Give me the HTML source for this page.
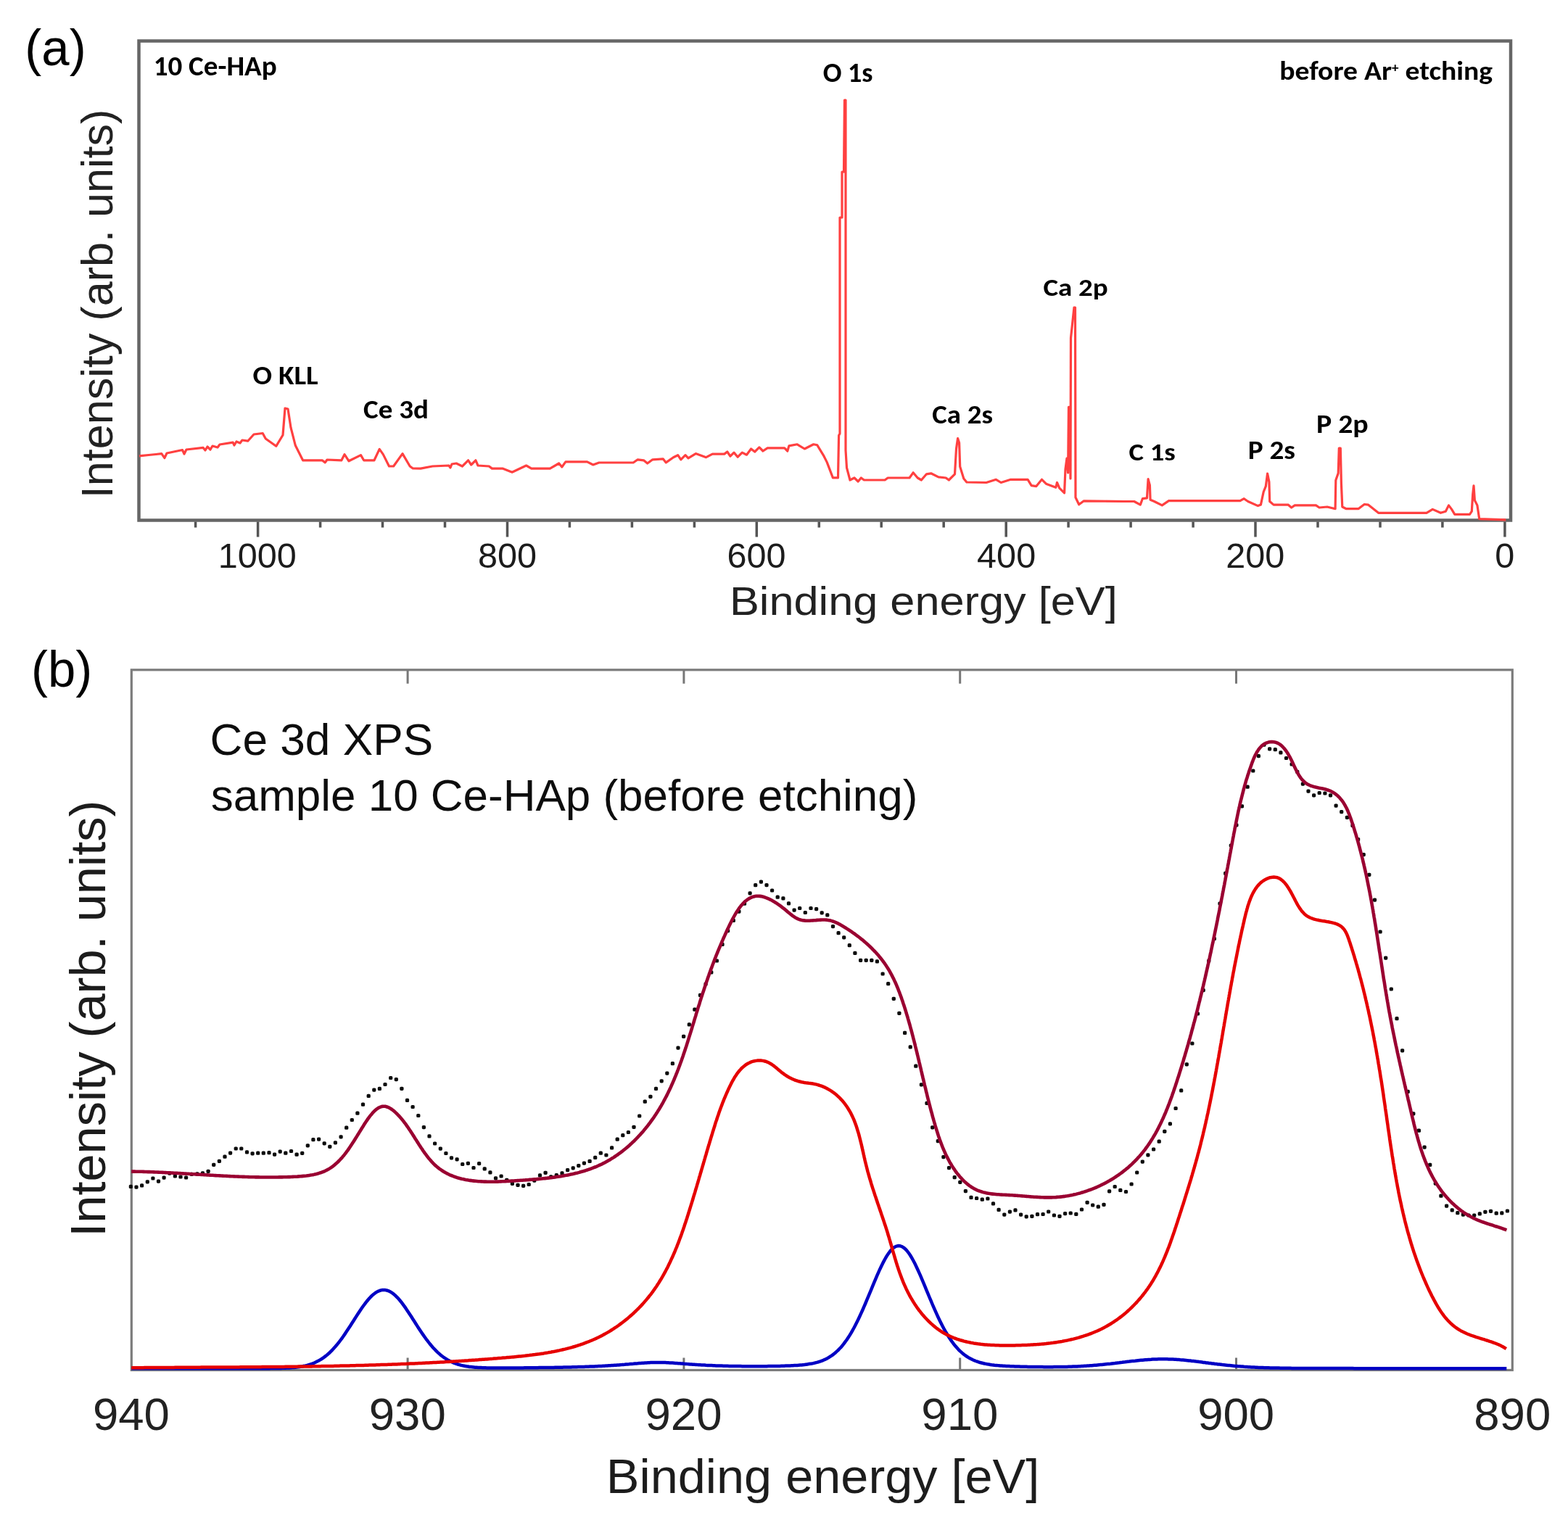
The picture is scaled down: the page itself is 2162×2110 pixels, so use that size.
<!DOCTYPE html>
<html><head><meta charset="utf-8"><title>XPS</title><style>html,body{margin:0;padding:0;background:#fff}svg{display:block}</style></head><body><svg width="2162" height="2110" viewBox="0 0 2162 2110">
<defs><filter id="bl1" x="-1%" y="-1%" width="102%" height="102%"><feGaussianBlur stdDeviation="0.7"/></filter><filter id="blg" x="0" y="0" width="100%" height="100%" filterUnits="userSpaceOnUse"><feGaussianBlur stdDeviation="0.75"/></filter></defs>
<g filter="url(#blg)">
<rect width="2162" height="2110" fill="#fff"/>
<rect x="191.5" y="56.5" width="1891.5" height="661.0" fill="none" stroke="#666" stroke-width="4.5"/>
<path d="M269.6,719.5v8 M355.6,719.5v21 M441.6,719.5v8 M527.5,719.5v8 M613.5,719.5v8 M699.5,719.5v21 M785.4,719.5v8 M871.4,719.5v8 M957.4,719.5v8 M1043.3,719.5v21 M1129.3,719.5v8 M1215.2,719.5v8 M1301.2,719.5v8 M1387.2,719.5v21 M1473.1,719.5v8 M1559.1,719.5v8 M1645.1,719.5v8 M1731.0,719.5v21 M1817.0,719.5v8 M1903.0,719.5v8 M1988.9,719.5v8 M2074.9,719.5v21" stroke="#555" stroke-width="3.5" fill="none"/>
<path d="M192.0,629.0 L194.0,628.7 L205.0,627.5 L215.0,626.5 L222.8,625.6 L226.9,631.7 L230.0,625.0 L251.5,620.5 L254.0,626.0 L257.0,620.0 L280.2,617.4 L283.0,621.0 L286.0,616.0 L290.0,620.0 L293.0,615.0 L300.0,617.0 L303.0,613.0 L321.2,610.2 L323.0,614.0 L326.0,609.0 L331.0,611.0 L334.0,607.0 L341.7,608.2 L350.0,599.0 L362.2,597.5 L366.3,605.0 L380.7,615.3 L390.0,600.0 L393.0,563.0 L397.0,564.0 L401.0,589.7 L407.3,614.3 L417.6,634.8 L444.2,634.8 L448.3,637.9 L451.0,634.0 L470.9,634.8 L475.0,626.6 L481.0,635.8 L497.5,627.6 L501.6,634.8 L516.0,634.8 L523.2,619.4 L528.3,626.6 L536.5,643.0 L542.6,643.0 L555.0,625.6 L565.2,643.0 L569.3,646.0 L580.0,646.1 L596.4,643.0 L619.0,642.0 L621.0,645.0 L623.0,640.0 L629.2,639.0 L637.4,643.0 L645.6,634.8 L649.7,641.0 L655.9,634.8 L659.0,642.0 L674.3,643.0 L678.4,646.1 L692.8,646.1 L706.1,651.2 L725.6,642.0 L732.7,646.1 L758.4,646.1 L770.7,639.0 L774.8,644.0 L779.9,636.9 L809.6,636.9 L817.8,641.0 L826.0,638.0 L830.1,638.0 L873.2,638.0 L879.3,633.8 L887.5,634.8 L892.7,639.0 L899.8,633.8 L914.2,632.8 L918.3,637.9 L928.5,630.7 L934.7,627.7 L938.8,633.8 L945.0,627.7 L949.0,631.8 L959.3,625.6 L973.6,630.7 L982.3,626.1 L998.7,626.1 L1002.8,623.0 L1006.9,629.2 L1012.0,624.1 L1017.2,630.2 L1023.3,624.1 L1029.5,627.2 L1035.6,619.0 L1040.7,623.0 L1046.9,616.9 L1052.0,622.0 L1058.2,617.9 L1081.7,617.9 L1085.8,622.0 L1087.9,614.9 L1099.2,612.8 L1109.4,619.0 L1121.7,612.8 L1126.8,613.8 L1136.1,629.2 L1140.2,637.4 L1148.4,658.9 L1155.5,658.9 L1156.6,600.5 L1158.0,598.0 L1158.0,300.0 L1161.0,300.0 L1161.0,237.0 L1163.5,237.0 L1164.5,138.0 L1166.0,138.0 L1166.0,621.0 L1167.5,645.0 L1172.0,662.0 L1178.0,659.0 L1183.2,664.0 L1187.3,659.0 L1191.4,662.0 L1220.1,662.0 L1224.2,659.0 L1254.0,659.0 L1259.1,651.8 L1265.2,659.0 L1270.4,662.0 L1277.5,653.8 L1283.7,652.8 L1293.9,657.9 L1304.2,659.0 L1308.3,662.0 L1316.5,653.8 L1318.5,619.0 L1320.6,604.6 L1322.6,610.8 L1323.7,643.6 L1328.8,660.0 L1332.9,665.0 L1360.0,665.5 L1373.4,661.3 L1380.2,665.5 L1393.6,661.3 L1417.1,661.3 L1422.2,669.7 L1428.9,670.6 L1436.5,661.3 L1442.4,667.2 L1455.8,672.3 L1457.5,665.5 L1460.8,673.1 L1467.6,679.8 L1469.0,647.0 L1471.0,632.0 L1472.6,652.0 L1473.5,561.3 L1475.0,561.3 L1476.0,660.0 L1476.5,466.0 L1479.5,438.0 L1481.0,424.0 L1482.5,424.0 L1483.0,686.0 L1487.7,695.8 L1494.5,690.8 L1550.0,691.5 L1563.8,691.5 L1572.3,696.1 L1575.4,687.7 L1581.5,686.9 L1583.1,660.7 L1585.4,669.2 L1586.1,689.2 L1591.5,691.5 L1602.3,696.9 L1611.5,690.7 L1709.9,690.7 L1715.3,687.7 L1720.7,691.5 L1734.5,697.6 L1738.4,696.1 L1742.2,678.4 L1745.3,670.7 L1747.6,653.0 L1749.9,664.6 L1750.7,691.5 L1756.1,696.1 L1776.0,696.1 L1780.7,700.0 L1785.3,696.9 L1814.5,696.9 L1819.1,700.0 L1830.0,699.0 L1841.1,701.7 L1841.8,662.3 L1845.2,652.6 L1846.3,618.0 L1848.3,618.0 L1849.4,666.4 L1850.8,699.0 L1856.3,701.7 L1872.9,701.7 L1881.2,695.5 L1886.7,696.2 L1900.6,707.3 L1967.0,707.3 L1975.3,702.4 L1986.4,707.3 L1993.3,705.2 L1997.5,696.9 L2001.6,702.4 L2005.8,709.3 L2026.5,709.3 L2029.3,705.2 L2030.7,681.6 L2032.0,669.9 L2033.4,690.0 L2036.9,696.9 L2039.7,715.6 L2076.3,716.9" fill="none" stroke="#ff4040" stroke-width="3.2" stroke-linejoin="round" filter="url(#bl1)"/>
<rect x="181.3" y="923.8" width="1904.0000000000002" height="965.7" fill="none" stroke="#7c7c7c" stroke-width="3.2"/>
<path d="M562.1,923.8v19 M562.1,1889.5v-17 M942.9,923.8v19 M942.9,1889.5v-17 M1323.7,923.8v19 M1323.7,1889.5v-17 M1704.5,923.8v19 M1704.5,1889.5v-17" stroke="#777" stroke-width="3" fill="none"/>
<path d="M181.3,1887.3 L183.3,1887.3 L185.3,1887.3 L187.3,1887.3 L189.3,1887.3 L191.3,1887.3 L193.3,1887.3 L195.3,1887.3 L197.3,1887.3 L199.3,1887.3 L201.3,1887.3 L203.3,1887.3 L205.3,1887.3 L207.3,1887.3 L209.3,1887.3 L211.3,1887.3 L213.3,1887.3 L215.3,1887.3 L217.3,1887.3 L219.3,1887.3 L221.3,1887.3 L223.3,1887.3 L225.3,1887.3 L227.3,1887.3 L229.3,1887.3 L231.3,1887.3 L233.3,1887.3 L235.3,1887.3 L237.3,1887.3 L239.3,1887.3 L241.3,1887.3 L243.3,1887.3 L245.3,1887.3 L247.3,1887.3 L249.3,1887.3 L251.3,1887.3 L253.3,1887.3 L255.3,1887.3 L257.3,1887.3 L259.3,1887.3 L261.3,1887.3 L263.3,1887.3 L265.3,1887.3 L267.3,1887.3 L269.3,1887.3 L271.3,1887.3 L273.3,1887.3 L275.3,1887.3 L277.3,1887.3 L279.3,1887.3 L281.3,1887.3 L283.3,1887.3 L285.3,1887.3 L287.3,1887.3 L289.3,1887.3 L291.3,1887.3 L293.3,1887.3 L295.3,1887.3 L297.3,1887.3 L299.3,1887.3 L301.3,1887.3 L303.3,1887.3 L305.3,1887.3 L307.3,1887.3 L309.3,1887.3 L311.3,1887.3 L313.3,1887.3 L315.3,1887.3 L317.3,1887.3 L319.3,1887.3 L321.3,1887.3 L323.3,1887.3 L325.3,1887.3 L327.3,1887.3 L329.3,1887.3 L331.3,1887.3 L333.3,1887.3 L335.3,1887.3 L337.3,1887.3 L339.3,1887.3 L341.3,1887.3 L343.3,1887.3 L345.3,1887.3 L347.3,1887.3 L349.3,1887.3 L351.3,1887.2 L353.3,1887.2 L355.3,1887.2 L357.3,1887.2 L359.3,1887.2 L361.3,1887.2 L363.3,1887.2 L365.3,1887.2 L367.3,1887.2 L369.3,1887.2 L371.3,1887.2 L373.3,1887.1 L375.3,1887.1 L377.3,1887.1 L379.3,1887.1 L381.3,1887.0 L383.3,1887.0 L385.3,1887.0 L387.3,1886.9 L389.3,1886.8 L391.3,1886.8 L393.3,1886.7 L395.3,1886.6 L397.3,1886.5 L399.3,1886.4 L401.3,1886.2 L403.3,1886.1 L405.3,1885.9 L407.3,1885.7 L409.3,1885.5 L411.3,1885.2 L413.3,1884.9 L415.3,1884.6 L417.3,1884.2 L419.3,1883.8 L421.3,1883.4 L423.3,1882.9 L425.3,1882.3 L427.3,1881.7 L429.3,1881.0 L431.3,1880.3 L433.3,1879.5 L435.3,1878.6 L437.3,1877.6 L439.3,1876.6 L441.3,1875.4 L443.3,1874.2 L445.3,1872.8 L447.3,1871.4 L449.3,1869.9 L451.3,1868.2 L453.3,1866.5 L455.3,1864.6 L457.3,1862.6 L459.3,1860.5 L461.3,1858.3 L463.3,1856.0 L465.3,1853.6 L467.3,1851.1 L469.3,1848.5 L471.3,1845.8 L473.3,1843.0 L475.3,1840.1 L477.3,1837.1 L479.3,1834.1 L481.3,1831.1 L483.3,1828.0 L485.3,1824.8 L487.3,1821.7 L489.3,1818.5 L491.3,1815.4 L493.3,1812.3 L495.3,1809.2 L497.3,1806.2 L499.3,1803.3 L501.3,1800.5 L503.3,1797.8 L505.3,1795.2 L507.3,1792.8 L509.3,1790.5 L511.3,1788.4 L513.3,1786.4 L515.3,1784.7 L517.3,1783.2 L519.3,1781.9 L521.3,1780.8 L523.3,1780.0 L525.3,1779.4 L527.3,1779.0 L529.3,1778.9 L531.3,1779.1 L533.3,1779.5 L535.3,1780.1 L537.3,1781.0 L539.3,1782.1 L541.3,1783.5 L543.3,1785.1 L545.3,1786.8 L547.3,1788.8 L549.3,1790.9 L551.3,1793.3 L553.3,1795.7 L555.3,1798.4 L557.3,1801.1 L559.3,1803.9 L561.3,1806.9 L563.3,1809.9 L565.3,1812.9 L567.3,1816.0 L569.3,1819.2 L571.3,1822.3 L573.3,1825.5 L575.3,1828.6 L577.3,1831.7 L579.3,1834.7 L581.3,1837.7 L583.3,1840.6 L585.3,1843.5 L587.3,1846.3 L589.3,1848.9 L591.3,1851.5 L593.3,1854.0 L595.3,1856.4 L597.3,1858.7 L599.3,1860.8 L601.3,1862.9 L603.3,1864.8 L605.3,1866.6 L607.3,1868.4 L609.3,1870.0 L611.3,1871.5 L613.3,1872.9 L615.3,1874.2 L617.3,1875.4 L619.3,1876.5 L621.3,1877.6 L623.3,1878.5 L625.3,1879.4 L627.3,1880.2 L629.3,1880.9 L631.3,1881.5 L633.3,1882.1 L635.3,1882.7 L637.3,1883.1 L639.3,1883.6 L641.3,1883.9 L643.3,1884.3 L645.3,1884.6 L647.3,1884.9 L649.3,1885.1 L651.3,1885.3 L653.3,1885.5 L655.3,1885.7 L657.3,1885.8 L659.3,1885.9 L661.3,1886.0 L663.3,1886.1 L665.3,1886.2 L667.3,1886.3 L669.3,1886.3 L671.3,1886.4 L673.3,1886.4 L675.3,1886.5 L677.3,1886.5 L679.3,1886.5 L681.3,1886.5 L683.3,1886.5 L685.3,1886.5 L687.3,1886.5 L689.3,1886.5 L691.3,1886.5 L693.3,1886.5 L695.3,1886.5 L697.3,1886.5 L699.3,1886.5 L701.3,1886.5 L703.3,1886.5 L705.3,1886.5 L707.3,1886.5 L709.3,1886.5 L711.3,1886.4 L713.3,1886.4 L715.3,1886.4 L717.3,1886.4 L719.3,1886.4 L721.3,1886.4 L723.3,1886.3 L725.3,1886.3 L727.3,1886.3 L729.3,1886.3 L731.3,1886.3 L733.3,1886.3 L735.3,1886.2 L737.3,1886.2 L739.3,1886.2 L741.3,1886.2 L743.3,1886.1 L745.3,1886.1 L747.3,1886.1 L749.3,1886.1 L751.3,1886.0 L753.3,1886.0 L755.3,1886.0 L757.3,1886.0 L759.3,1885.9 L761.3,1885.9 L763.3,1885.9 L765.3,1885.8 L767.3,1885.8 L769.3,1885.8 L771.3,1885.7 L773.3,1885.7 L775.3,1885.7 L777.3,1885.6 L779.3,1885.6 L781.3,1885.5 L783.3,1885.5 L785.3,1885.4 L787.3,1885.4 L789.3,1885.3 L791.3,1885.3 L793.3,1885.2 L795.3,1885.2 L797.3,1885.1 L799.3,1885.1 L801.3,1885.0 L803.3,1885.0 L805.3,1884.9 L807.3,1884.8 L809.3,1884.7 L811.3,1884.7 L813.3,1884.6 L815.3,1884.5 L817.3,1884.4 L819.3,1884.4 L821.3,1884.3 L823.3,1884.2 L825.3,1884.1 L827.3,1884.0 L829.3,1883.9 L831.3,1883.8 L833.3,1883.7 L835.3,1883.6 L837.3,1883.5 L839.3,1883.3 L841.3,1883.2 L843.3,1883.1 L845.3,1883.0 L847.3,1882.8 L849.3,1882.7 L851.3,1882.5 L853.3,1882.4 L855.3,1882.2 L857.3,1882.1 L859.3,1881.9 L861.3,1881.8 L863.3,1881.6 L865.3,1881.4 L867.3,1881.3 L869.3,1881.1 L871.3,1880.9 L873.3,1880.8 L875.3,1880.6 L877.3,1880.4 L879.3,1880.3 L881.3,1880.1 L883.3,1880.0 L885.3,1879.8 L887.3,1879.7 L889.3,1879.5 L891.3,1879.4 L893.3,1879.3 L895.3,1879.2 L897.3,1879.1 L899.3,1879.0 L901.3,1879.0 L903.3,1879.0 L905.3,1878.9 L907.3,1878.9 L909.3,1878.9 L911.3,1878.9 L913.3,1879.0 L915.3,1879.0 L917.3,1879.1 L919.3,1879.2 L921.3,1879.3 L923.3,1879.4 L925.3,1879.5 L927.3,1879.6 L929.3,1879.7 L931.3,1879.9 L933.3,1880.0 L935.3,1880.2 L937.3,1880.3 L939.3,1880.5 L941.3,1880.6 L943.3,1880.8 L945.3,1880.9 L947.3,1881.1 L949.3,1881.2 L951.3,1881.4 L953.3,1881.5 L955.3,1881.7 L957.3,1881.8 L959.3,1881.9 L961.3,1882.1 L963.3,1882.2 L965.3,1882.3 L967.3,1882.4 L969.3,1882.5 L971.3,1882.6 L973.3,1882.8 L975.3,1882.9 L977.3,1882.9 L979.3,1883.0 L981.3,1883.1 L983.3,1883.2 L985.3,1883.3 L987.3,1883.4 L989.3,1883.4 L991.3,1883.5 L993.3,1883.6 L995.3,1883.6 L997.3,1883.7 L999.3,1883.7 L1001.3,1883.8 L1003.3,1883.8 L1005.3,1883.9 L1007.3,1883.9 L1009.3,1884.0 L1011.3,1884.0 L1013.3,1884.0 L1015.3,1884.1 L1017.3,1884.1 L1019.3,1884.1 L1021.3,1884.1 L1023.3,1884.2 L1025.3,1884.2 L1027.3,1884.2 L1029.3,1884.2 L1031.3,1884.2 L1033.3,1884.2 L1035.3,1884.2 L1037.3,1884.2 L1039.3,1884.2 L1041.3,1884.2 L1043.3,1884.2 L1045.3,1884.2 L1047.3,1884.2 L1049.3,1884.2 L1051.3,1884.2 L1053.3,1884.2 L1055.3,1884.2 L1057.3,1884.2 L1059.3,1884.1 L1061.3,1884.1 L1063.3,1884.1 L1065.3,1884.1 L1067.3,1884.0 L1069.3,1884.0 L1071.3,1883.9 L1073.3,1883.9 L1075.3,1883.9 L1077.3,1883.8 L1079.3,1883.8 L1081.3,1883.7 L1083.3,1883.6 L1085.3,1883.6 L1087.3,1883.5 L1089.3,1883.4 L1091.3,1883.3 L1093.3,1883.2 L1095.3,1883.1 L1097.3,1883.0 L1099.3,1882.9 L1101.3,1882.7 L1103.3,1882.5 L1105.3,1882.4 L1107.3,1882.2 L1109.3,1882.0 L1111.3,1881.7 L1113.3,1881.4 L1115.3,1881.1 L1117.3,1880.8 L1119.3,1880.5 L1121.3,1880.1 L1123.3,1879.6 L1125.3,1879.1 L1127.3,1878.6 L1129.3,1878.0 L1131.3,1877.3 L1133.3,1876.6 L1135.3,1875.8 L1137.3,1874.9 L1139.3,1873.9 L1141.3,1872.9 L1143.3,1871.7 L1145.3,1870.4 L1147.3,1869.1 L1149.3,1867.6 L1151.3,1866.0 L1153.3,1864.2 L1155.3,1862.4 L1157.3,1860.3 L1159.3,1858.2 L1161.3,1855.9 L1163.3,1853.4 L1165.3,1850.7 L1167.3,1848.0 L1169.3,1845.0 L1171.3,1841.9 L1173.3,1838.6 L1175.3,1835.1 L1177.3,1831.5 L1179.3,1827.7 L1181.3,1823.8 L1183.3,1819.7 L1185.3,1815.5 L1187.3,1811.1 L1189.3,1806.7 L1191.3,1802.1 L1193.3,1797.5 L1195.3,1792.7 L1197.3,1787.9 L1199.3,1783.1 L1201.3,1778.3 L1203.3,1773.4 L1205.3,1768.6 L1207.3,1763.9 L1209.3,1759.2 L1211.3,1754.7 L1213.3,1750.2 L1215.3,1746.0 L1217.3,1741.9 L1219.3,1738.1 L1221.3,1734.5 L1223.3,1731.2 L1225.3,1728.3 L1227.3,1725.6 L1229.3,1723.3 L1231.3,1721.4 L1233.3,1720.0 L1235.3,1718.9 L1237.3,1718.3 L1239.3,1718.1 L1241.3,1718.3 L1243.3,1719.0 L1245.3,1720.1 L1247.3,1721.6 L1249.3,1723.5 L1251.3,1725.9 L1253.3,1728.5 L1255.3,1731.5 L1257.3,1734.9 L1259.3,1738.5 L1261.3,1742.3 L1263.3,1746.4 L1265.3,1750.7 L1267.3,1755.1 L1269.3,1759.7 L1271.3,1764.4 L1273.3,1769.1 L1275.3,1773.9 L1277.3,1778.8 L1279.3,1783.6 L1281.3,1788.5 L1283.3,1793.2 L1285.3,1798.0 L1287.3,1802.6 L1289.3,1807.2 L1291.3,1811.7 L1293.3,1816.0 L1295.3,1820.2 L1297.3,1824.3 L1299.3,1828.2 L1301.3,1832.0 L1303.3,1835.6 L1305.3,1839.0 L1307.3,1842.3 L1309.3,1845.5 L1311.3,1848.4 L1313.3,1851.2 L1315.3,1853.8 L1317.3,1856.3 L1319.3,1858.6 L1321.3,1860.8 L1323.3,1862.8 L1325.3,1864.6 L1327.3,1866.4 L1329.3,1868.0 L1331.3,1869.5 L1333.3,1870.8 L1335.3,1872.1 L1337.3,1873.3 L1339.3,1874.3 L1341.3,1875.3 L1343.3,1876.2 L1345.3,1877.0 L1347.3,1877.7 L1349.3,1878.4 L1351.3,1879.0 L1353.3,1879.5 L1355.3,1880.0 L1357.3,1880.5 L1359.3,1880.9 L1361.3,1881.3 L1363.3,1881.6 L1365.3,1881.9 L1367.3,1882.2 L1369.3,1882.4 L1371.3,1882.7 L1373.3,1882.9 L1375.3,1883.1 L1377.3,1883.2 L1379.3,1883.4 L1381.3,1883.5 L1383.3,1883.7 L1385.3,1883.8 L1387.3,1883.9 L1389.3,1884.0 L1391.3,1884.1 L1393.3,1884.2 L1395.3,1884.3 L1397.3,1884.3 L1399.3,1884.4 L1401.3,1884.5 L1403.3,1884.5 L1405.3,1884.6 L1407.3,1884.7 L1409.3,1884.7 L1411.3,1884.8 L1413.3,1884.8 L1415.3,1884.8 L1417.3,1884.9 L1419.3,1884.9 L1421.3,1885.0 L1423.3,1885.0 L1425.3,1885.0 L1427.3,1885.0 L1429.3,1885.1 L1431.3,1885.1 L1433.3,1885.1 L1435.3,1885.1 L1437.3,1885.1 L1439.3,1885.2 L1441.3,1885.2 L1443.3,1885.2 L1445.3,1885.2 L1447.3,1885.2 L1449.3,1885.2 L1451.3,1885.2 L1453.3,1885.1 L1455.3,1885.1 L1457.3,1885.1 L1459.3,1885.1 L1461.3,1885.1 L1463.3,1885.0 L1465.3,1885.0 L1467.3,1885.0 L1469.3,1884.9 L1471.3,1884.9 L1473.3,1884.8 L1475.3,1884.7 L1477.3,1884.7 L1479.3,1884.6 L1481.3,1884.5 L1483.3,1884.5 L1485.3,1884.4 L1487.3,1884.3 L1489.3,1884.2 L1491.3,1884.1 L1493.3,1884.0 L1495.3,1883.8 L1497.3,1883.7 L1499.3,1883.6 L1501.3,1883.5 L1503.3,1883.3 L1505.3,1883.2 L1507.3,1883.0 L1509.3,1882.8 L1511.3,1882.7 L1513.3,1882.5 L1515.3,1882.3 L1517.3,1882.1 L1519.3,1881.9 L1521.3,1881.7 L1523.3,1881.5 L1525.3,1881.3 L1527.3,1881.1 L1529.3,1880.9 L1531.3,1880.7 L1533.3,1880.4 L1535.3,1880.2 L1537.3,1880.0 L1539.3,1879.7 L1541.3,1879.5 L1543.3,1879.3 L1545.3,1879.0 L1547.3,1878.8 L1549.3,1878.5 L1551.3,1878.3 L1553.3,1878.0 L1555.3,1877.8 L1557.3,1877.6 L1559.3,1877.3 L1561.3,1877.1 L1563.3,1876.9 L1565.3,1876.7 L1567.3,1876.4 L1569.3,1876.2 L1571.3,1876.0 L1573.3,1875.8 L1575.3,1875.7 L1577.3,1875.5 L1579.3,1875.3 L1581.3,1875.2 L1583.3,1875.0 L1585.3,1874.9 L1587.3,1874.8 L1589.3,1874.6 L1591.3,1874.5 L1593.3,1874.5 L1595.3,1874.4 L1597.3,1874.3 L1599.3,1874.3 L1601.3,1874.3 L1603.3,1874.3 L1605.3,1874.3 L1607.3,1874.3 L1609.3,1874.3 L1611.3,1874.4 L1613.3,1874.4 L1615.3,1874.5 L1617.3,1874.6 L1619.3,1874.7 L1621.3,1874.8 L1623.3,1875.0 L1625.3,1875.1 L1627.3,1875.3 L1629.3,1875.4 L1631.3,1875.6 L1633.3,1875.8 L1635.3,1876.0 L1637.3,1876.2 L1639.3,1876.4 L1641.3,1876.6 L1643.3,1876.9 L1645.3,1877.1 L1647.3,1877.3 L1649.3,1877.6 L1651.3,1877.8 L1653.3,1878.1 L1655.3,1878.3 L1657.3,1878.6 L1659.3,1878.9 L1661.3,1879.1 L1663.3,1879.4 L1665.3,1879.6 L1667.3,1879.9 L1669.3,1880.1 L1671.3,1880.4 L1673.3,1880.6 L1675.3,1880.9 L1677.3,1881.1 L1679.3,1881.4 L1681.3,1881.6 L1683.3,1881.8 L1685.3,1882.1 L1687.3,1882.3 L1689.3,1882.5 L1691.3,1882.7 L1693.3,1882.9 L1695.3,1883.1 L1697.3,1883.3 L1699.3,1883.5 L1701.3,1883.7 L1703.3,1883.9 L1705.3,1884.0 L1707.3,1884.2 L1709.3,1884.3 L1711.3,1884.5 L1713.3,1884.6 L1715.3,1884.8 L1717.3,1884.9 L1719.3,1885.0 L1721.3,1885.2 L1723.3,1885.3 L1725.3,1885.4 L1727.3,1885.5 L1729.3,1885.6 L1731.3,1885.7 L1733.3,1885.8 L1735.3,1885.9 L1737.3,1885.9 L1739.3,1886.0 L1741.3,1886.1 L1743.3,1886.2 L1745.3,1886.2 L1747.3,1886.3 L1749.3,1886.3 L1751.3,1886.4 L1753.3,1886.4 L1755.3,1886.5 L1757.3,1886.5 L1759.3,1886.6 L1761.3,1886.6 L1763.3,1886.6 L1765.3,1886.7 L1767.3,1886.7 L1769.3,1886.7 L1771.3,1886.8 L1773.3,1886.8 L1775.3,1886.8 L1777.3,1886.8 L1779.3,1886.8 L1781.3,1886.9 L1783.3,1886.9 L1785.3,1886.9 L1787.3,1886.9 L1789.3,1886.9 L1791.3,1886.9 L1793.3,1887.0 L1795.3,1887.0 L1797.3,1887.0 L1799.3,1887.0 L1801.3,1887.0 L1803.3,1887.0 L1805.3,1887.0 L1807.3,1887.0 L1809.3,1887.0 L1811.3,1887.0 L1813.3,1887.0 L1815.3,1887.1 L1817.3,1887.1 L1819.3,1887.1 L1821.3,1887.1 L1823.3,1887.1 L1825.3,1887.1 L1827.3,1887.1 L1829.3,1887.1 L1831.3,1887.1 L1833.3,1887.1 L1835.3,1887.1 L1837.3,1887.1 L1839.3,1887.1 L1841.3,1887.1 L1843.3,1887.1 L1845.3,1887.1 L1847.3,1887.1 L1849.3,1887.1 L1851.3,1887.1 L1853.3,1887.1 L1855.3,1887.1 L1857.3,1887.1 L1859.3,1887.1 L1861.3,1887.1 L1863.3,1887.1 L1865.3,1887.1 L1867.3,1887.2 L1869.3,1887.2 L1871.3,1887.2 L1873.3,1887.2 L1875.3,1887.2 L1877.3,1887.2 L1879.3,1887.2 L1881.3,1887.2 L1883.3,1887.2 L1885.3,1887.2 L1887.3,1887.2 L1889.3,1887.2 L1891.3,1887.2 L1893.3,1887.2 L1895.3,1887.2 L1897.3,1887.2 L1899.3,1887.2 L1901.3,1887.2 L1903.3,1887.2 L1905.3,1887.2 L1907.3,1887.2 L1909.3,1887.2 L1911.3,1887.2 L1913.3,1887.2 L1915.3,1887.2 L1917.3,1887.2 L1919.3,1887.2 L1921.3,1887.2 L1923.3,1887.2 L1925.3,1887.2 L1927.3,1887.2 L1929.3,1887.2 L1931.3,1887.2 L1933.3,1887.2 L1935.3,1887.2 L1937.3,1887.2 L1939.3,1887.2 L1941.3,1887.2 L1943.3,1887.2 L1945.3,1887.2 L1947.3,1887.2 L1949.3,1887.2 L1951.3,1887.2 L1953.3,1887.2 L1955.3,1887.2 L1957.3,1887.2 L1959.3,1887.2 L1961.3,1887.2 L1963.3,1887.2 L1965.3,1887.2 L1967.3,1887.2 L1969.3,1887.2 L1971.3,1887.2 L1973.3,1887.2 L1975.3,1887.2 L1977.3,1887.3 L1979.3,1887.3 L1981.3,1887.3 L1983.3,1887.3 L1985.3,1887.3 L1987.3,1887.3 L1989.3,1887.3 L1991.3,1887.3 L1993.3,1887.3 L1995.3,1887.3 L1997.3,1887.3 L1999.3,1887.3 L2001.3,1887.3 L2003.3,1887.3 L2005.3,1887.3 L2007.3,1887.3 L2009.3,1887.3 L2011.3,1887.3 L2013.3,1887.3 L2015.3,1887.3 L2017.3,1887.3 L2019.3,1887.3 L2021.3,1887.3 L2023.3,1887.3 L2025.3,1887.3 L2027.3,1887.3 L2029.3,1887.3 L2031.3,1887.3 L2033.3,1887.3 L2035.3,1887.3 L2037.3,1887.3 L2039.3,1887.3 L2041.3,1887.3 L2043.3,1887.3 L2045.3,1887.3 L2047.3,1887.3 L2049.3,1887.3 L2051.3,1887.3 L2053.3,1887.3 L2055.3,1887.3 L2057.3,1887.3 L2059.3,1887.3 L2061.3,1887.3 L2063.3,1887.3 L2065.3,1887.3 L2067.3,1887.3 L2069.3,1887.3 L2071.3,1887.3 L2073.3,1887.3 L2075.3,1887.3 L2077.3,1887.3" fill="none" stroke="#0000c4" stroke-width="4.5" stroke-linejoin="round"/>
<path d="M181.2,1886.3 L183.2,1886.3 L185.2,1886.3 L187.2,1886.3 L189.2,1886.2 L191.3,1886.2 L193.3,1886.2 L195.3,1886.2 L197.3,1886.2 L199.3,1886.1 L201.3,1886.1 L203.3,1886.1 L205.3,1886.1 L207.4,1886.1 L209.4,1886.1 L211.4,1886.0 L213.4,1886.0 L215.4,1886.0 L217.4,1886.0 L219.4,1886.0 L221.4,1886.0 L223.4,1886.0 L225.4,1885.9 L227.5,1885.9 L229.5,1885.9 L231.5,1885.9 L233.5,1885.9 L235.5,1885.9 L237.5,1885.9 L239.5,1885.9 L241.5,1885.8 L243.5,1885.8 L245.5,1885.8 L247.5,1885.8 L249.5,1885.8 L251.5,1885.8 L253.6,1885.8 L255.6,1885.8 L257.6,1885.7 L259.6,1885.7 L261.6,1885.7 L263.6,1885.7 L265.6,1885.7 L267.6,1885.7 L269.6,1885.7 L271.6,1885.7 L273.6,1885.7 L275.6,1885.7 L277.6,1885.6 L279.6,1885.6 L281.6,1885.6 L283.6,1885.6 L285.6,1885.6 L287.6,1885.6 L289.6,1885.6 L291.6,1885.6 L293.6,1885.6 L295.6,1885.5 L297.6,1885.5 L299.6,1885.5 L301.6,1885.5 L303.6,1885.5 L305.6,1885.5 L307.6,1885.5 L309.6,1885.5 L311.6,1885.5 L313.6,1885.5 L315.6,1885.4 L317.6,1885.4 L319.6,1885.4 L321.6,1885.4 L323.6,1885.4 L325.6,1885.4 L327.6,1885.4 L329.6,1885.4 L331.6,1885.3 L333.6,1885.3 L335.6,1885.3 L337.6,1885.3 L339.6,1885.3 L341.6,1885.3 L343.6,1885.3 L345.6,1885.3 L347.6,1885.2 L349.6,1885.2 L351.6,1885.2 L353.6,1885.2 L355.6,1885.2 L357.6,1885.2 L359.6,1885.2 L361.6,1885.1 L363.6,1885.1 L365.6,1885.1 L367.6,1885.1 L369.6,1885.1 L371.6,1885.1 L373.6,1885.0 L375.6,1885.0 L377.6,1885.0 L379.6,1885.0 L381.6,1885.0 L383.6,1884.9 L385.6,1884.9 L387.6,1884.9 L389.6,1884.9 L391.6,1884.9 L393.6,1884.8 L395.6,1884.8 L397.6,1884.8 L399.6,1884.8 L401.6,1884.7 L403.6,1884.7 L405.6,1884.7 L407.6,1884.7 L409.5,1884.7 L411.5,1884.6 L413.5,1884.6 L415.5,1884.6 L417.5,1884.5 L419.5,1884.5 L421.5,1884.5 L423.5,1884.5 L425.5,1884.4 L427.5,1884.4 L429.5,1884.4 L431.5,1884.3 L433.5,1884.3 L435.5,1884.3 L437.5,1884.2 L439.5,1884.2 L441.5,1884.2 L443.5,1884.1 L445.5,1884.1 L447.5,1884.1 L449.5,1884.0 L451.5,1884.0 L453.5,1884.0 L455.5,1883.9 L457.4,1883.9 L459.4,1883.9 L461.4,1883.8 L463.4,1883.8 L465.4,1883.7 L467.4,1883.7 L469.4,1883.6 L471.4,1883.6 L473.4,1883.6 L475.4,1883.5 L477.4,1883.5 L479.4,1883.4 L481.4,1883.4 L483.4,1883.3 L485.4,1883.3 L487.4,1883.2 L489.4,1883.2 L491.4,1883.1 L493.4,1883.1 L495.4,1883.0 L497.4,1883.0 L499.4,1882.9 L501.4,1882.9 L503.4,1882.8 L505.4,1882.7 L507.3,1882.7 L509.3,1882.6 L511.3,1882.6 L513.3,1882.5 L515.3,1882.5 L517.3,1882.4 L519.3,1882.3 L521.3,1882.3 L523.3,1882.2 L525.3,1882.1 L527.3,1882.1 L529.3,1882.0 L531.3,1881.9 L533.3,1881.9 L535.3,1881.8 L537.3,1881.7 L539.3,1881.7 L541.3,1881.6 L543.3,1881.5 L545.3,1881.4 L547.3,1881.4 L549.3,1881.3 L551.3,1881.2 L553.3,1881.1 L555.3,1881.0 L557.3,1881.0 L559.3,1880.9 L561.3,1880.8 L563.3,1880.7 L565.3,1880.6 L567.3,1880.5 L569.3,1880.5 L571.3,1880.4 L573.3,1880.3 L575.3,1880.2 L577.3,1880.1 L579.3,1880.0 L581.3,1879.9 L583.3,1879.8 L585.3,1879.7 L587.3,1879.6 L589.3,1879.5 L591.3,1879.4 L593.3,1879.3 L595.3,1879.2 L597.3,1879.1 L599.3,1879.0 L601.3,1878.9 L603.3,1878.8 L605.3,1878.7 L607.3,1878.6 L609.3,1878.5 L611.3,1878.4 L613.3,1878.2 L615.3,1878.1 L617.3,1878.0 L619.3,1877.9 L621.3,1877.8 L623.3,1877.7 L625.3,1877.5 L627.3,1877.4 L629.3,1877.3 L631.3,1877.2 L633.3,1877.0 L635.3,1876.9 L637.3,1876.8 L639.3,1876.7 L641.3,1876.5 L643.4,1876.4 L645.4,1876.3 L647.4,1876.1 L649.4,1876.0 L651.4,1875.8 L653.4,1875.7 L655.4,1875.6 L657.4,1875.4 L659.4,1875.3 L661.4,1875.1 L663.4,1875.0 L665.4,1874.8 L667.4,1874.7 L669.4,1874.5 L671.4,1874.4 L673.5,1874.2 L675.5,1874.1 L677.5,1873.9 L679.5,1873.8 L681.5,1873.6 L683.5,1873.4 L685.5,1873.3 L687.5,1873.1 L689.5,1872.9 L691.5,1872.8 L693.6,1872.6 L695.6,1872.4 L697.6,1872.3 L699.6,1872.1 L701.6,1871.9 L703.6,1871.7 L705.6,1871.6 L707.6,1871.4 L709.6,1871.2 L711.7,1871.0 L713.7,1870.8 L715.7,1870.6 L717.7,1870.4 L719.7,1870.2 L721.7,1870.0 L723.7,1869.8 L725.7,1869.5 L727.7,1869.3 L729.7,1869.1 L731.7,1868.8 L733.7,1868.6 L735.7,1868.3 L737.7,1868.1 L739.7,1867.8 L741.7,1867.5 L743.7,1867.3 L745.6,1867.0 L747.6,1866.7 L749.6,1866.4 L751.6,1866.0 L753.6,1865.7 L755.5,1865.4 L757.5,1865.0 L759.5,1864.7 L761.4,1864.3 L763.4,1864.0 L765.3,1863.6 L767.3,1863.2 L769.2,1862.8 L771.2,1862.4 L773.1,1861.9 L775.0,1861.5 L777.0,1861.0 L778.9,1860.6 L780.8,1860.1 L782.7,1859.6 L784.7,1859.1 L786.6,1858.6 L788.5,1858.1 L790.4,1857.5 L792.3,1857.0 L794.2,1856.4 L796.0,1855.8 L797.9,1855.2 L799.8,1854.6 L801.7,1853.9 L803.5,1853.3 L805.4,1852.6 L807.2,1851.9 L809.1,1851.2 L810.9,1850.5 L812.7,1849.8 L814.6,1849.0 L816.4,1848.3 L818.2,1847.5 L820.0,1846.7 L821.8,1845.9 L823.6,1845.0 L825.4,1844.2 L827.2,1843.3 L828.9,1842.4 L830.7,1841.5 L832.5,1840.5 L834.2,1839.6 L835.9,1838.6 L837.7,1837.6 L839.4,1836.6 L841.1,1835.6 L842.8,1834.5 L844.5,1833.4 L846.2,1832.3 L847.9,1831.2 L849.6,1830.1 L851.2,1829.0 L852.9,1827.8 L854.5,1826.6 L856.1,1825.4 L857.7,1824.2 L859.3,1823.0 L860.9,1821.8 L862.5,1820.5 L864.1,1819.2 L865.7,1817.9 L867.2,1816.6 L868.7,1815.3 L870.2,1814.0 L871.8,1812.6 L873.3,1811.3 L874.7,1809.9 L876.2,1808.5 L877.6,1807.1 L879.1,1805.7 L880.5,1804.3 L881.9,1802.8 L883.3,1801.4 L884.7,1799.9 L886.1,1798.4 L887.4,1796.9 L888.7,1795.4 L890.0,1793.9 L891.3,1792.4 L892.6,1790.8 L893.9,1789.3 L895.1,1787.7 L896.4,1786.1 L897.6,1784.6 L898.8,1783.0 L900.0,1781.4 L901.1,1779.8 L902.3,1778.1 L903.4,1776.5 L904.5,1774.9 L905.7,1773.2 L906.7,1771.5 L907.8,1769.9 L908.9,1768.2 L909.9,1766.5 L911.0,1764.8 L912.0,1763.1 L913.0,1761.4 L914.0,1759.7 L915.0,1757.9 L915.9,1756.2 L916.9,1754.5 L917.8,1752.7 L918.7,1751.0 L919.7,1749.2 L920.6,1747.4 L921.5,1745.6 L922.3,1743.8 L923.2,1742.0 L924.1,1740.2 L924.9,1738.4 L925.7,1736.6 L926.6,1734.8 L927.4,1733.0 L928.2,1731.2 L929.0,1729.3 L929.8,1727.5 L930.6,1725.6 L931.3,1723.8 L932.1,1721.9 L932.9,1720.1 L933.6,1718.2 L934.3,1716.3 L935.1,1714.5 L935.8,1712.6 L936.5,1710.7 L937.2,1708.8 L937.9,1706.9 L938.6,1705.1 L939.3,1703.2 L940.0,1701.3 L940.6,1699.4 L941.3,1697.5 L942.0,1695.5 L942.6,1693.6 L943.3,1691.7 L943.9,1689.8 L944.5,1687.9 L945.2,1686.0 L945.8,1684.1 L946.4,1682.2 L947.1,1680.2 L947.7,1678.3 L948.3,1676.4 L948.9,1674.5 L949.5,1672.5 L950.1,1670.6 L950.7,1668.7 L951.3,1666.8 L951.9,1664.8 L952.5,1662.9 L953.1,1661.0 L953.7,1659.1 L954.3,1657.1 L954.9,1655.2 L955.5,1653.3 L956.0,1651.4 L956.6,1649.4 L957.2,1647.5 L957.8,1645.6 L958.4,1643.6 L958.9,1641.7 L959.5,1639.8 L960.1,1637.9 L960.7,1635.9 L961.2,1634.0 L961.8,1632.1 L962.4,1630.2 L962.9,1628.3 L963.5,1626.3 L964.0,1624.4 L964.6,1622.5 L965.2,1620.6 L965.7,1618.6 L966.3,1616.7 L966.9,1614.8 L967.4,1612.9 L968.0,1611.0 L968.5,1609.1 L969.1,1607.1 L969.7,1605.2 L970.2,1603.3 L970.8,1601.4 L971.3,1599.5 L971.9,1597.6 L972.4,1595.7 L973.0,1593.8 L973.6,1591.9 L974.1,1589.9 L974.7,1588.0 L975.2,1586.1 L975.8,1584.2 L976.4,1582.3 L976.9,1580.4 L977.5,1578.5 L978.1,1576.6 L978.6,1574.8 L979.2,1572.9 L979.8,1571.0 L980.3,1569.1 L980.9,1567.2 L981.5,1565.3 L982.1,1563.4 L982.6,1561.5 L983.2,1559.7 L983.8,1557.8 L984.4,1555.9 L985.0,1554.0 L985.6,1552.2 L986.1,1550.3 L986.7,1548.4 L987.3,1546.5 L988.0,1544.7 L988.6,1542.8 L989.2,1540.9 L989.8,1539.1 L990.5,1537.2 L991.1,1535.3 L991.8,1533.4 L992.4,1531.6 L993.1,1529.7 L993.8,1527.8 L994.5,1526.0 L995.2,1524.1 L995.9,1522.2 L996.6,1520.3 L997.4,1518.5 L998.1,1516.6 L998.9,1514.7 L999.7,1512.8 L1000.5,1510.9 L1001.3,1509.1 L1002.1,1507.2 L1003.0,1505.3 L1003.8,1503.4 L1004.7,1501.5 L1005.6,1499.6 L1006.5,1497.7 L1007.5,1495.8 L1008.4,1493.9 L1009.4,1492.0 L1010.4,1490.2 L1011.5,1488.3 L1012.5,1486.5 L1013.6,1484.7 L1014.8,1483.0 L1015.9,1481.3 L1017.1,1479.6 L1018.4,1478.0 L1019.6,1476.5 L1021.0,1475.0 L1022.3,1473.5 L1023.7,1472.2 L1025.2,1470.9 L1026.7,1469.7 L1028.2,1468.5 L1029.8,1467.5 L1031.5,1466.5 L1033.2,1465.7 L1034.9,1464.9 L1036.7,1464.2 L1038.5,1463.7 L1040.4,1463.2 L1042.3,1462.9 L1044.2,1462.6 L1046.1,1462.5 L1048.0,1462.5 L1049.9,1462.6 L1051.8,1462.9 L1053.6,1463.2 L1055.5,1463.7 L1057.3,1464.4 L1059.1,1465.1 L1060.8,1466.0 L1062.6,1467.0 L1064.3,1468.0 L1065.9,1469.2 L1067.6,1470.4 L1069.2,1471.7 L1070.8,1473.0 L1072.4,1474.4 L1074.0,1475.7 L1075.6,1477.1 L1077.2,1478.4 L1078.8,1479.7 L1080.5,1480.9 L1082.1,1482.1 L1083.8,1483.2 L1085.4,1484.3 L1087.1,1485.3 L1088.8,1486.2 L1090.6,1487.1 L1092.3,1488.0 L1094.1,1488.7 L1095.9,1489.5 L1097.7,1490.1 L1099.5,1490.7 L1101.4,1491.3 L1103.3,1491.8 L1105.2,1492.3 L1107.2,1492.6 L1109.1,1493.0 L1111.1,1493.3 L1113.1,1493.5 L1115.2,1493.8 L1117.2,1494.0 L1119.2,1494.3 L1121.2,1494.6 L1123.1,1495.0 L1125.1,1495.4 L1127.0,1495.9 L1128.9,1496.5 L1130.7,1497.1 L1132.6,1497.7 L1134.4,1498.4 L1136.1,1499.1 L1137.9,1499.9 L1139.6,1500.8 L1141.3,1501.7 L1142.9,1502.6 L1144.6,1503.6 L1146.2,1504.6 L1147.7,1505.7 L1149.3,1506.8 L1150.8,1507.9 L1152.3,1509.1 L1153.7,1510.3 L1155.1,1511.6 L1156.5,1512.9 L1157.9,1514.2 L1159.2,1515.6 L1160.5,1517.0 L1161.8,1518.4 L1163.0,1519.9 L1164.2,1521.4 L1165.4,1522.9 L1166.5,1524.5 L1167.6,1526.1 L1168.7,1527.7 L1169.7,1529.3 L1170.7,1531.0 L1171.7,1532.7 L1172.7,1534.4 L1173.6,1536.1 L1174.4,1537.9 L1175.3,1539.6 L1176.1,1541.4 L1176.9,1543.2 L1177.7,1545.0 L1178.4,1546.9 L1179.1,1548.7 L1179.8,1550.6 L1180.5,1552.5 L1181.1,1554.4 L1181.7,1556.3 L1182.3,1558.3 L1182.9,1560.2 L1183.5,1562.1 L1184.1,1564.1 L1184.6,1566.1 L1185.1,1568.0 L1185.6,1570.0 L1186.1,1572.0 L1186.6,1574.0 L1187.1,1576.0 L1187.6,1578.0 L1188.1,1580.1 L1188.5,1582.1 L1189.0,1584.1 L1189.4,1586.1 L1189.9,1588.1 L1190.4,1590.2 L1190.8,1592.2 L1191.3,1594.2 L1191.7,1596.2 L1192.2,1598.2 L1192.6,1600.2 L1193.1,1602.3 L1193.6,1604.3 L1194.1,1606.3 L1194.6,1608.2 L1195.1,1610.2 L1195.6,1612.2 L1196.1,1614.2 L1196.6,1616.1 L1197.2,1618.1 L1197.7,1620.0 L1198.3,1622.0 L1198.8,1623.9 L1199.4,1625.9 L1200.0,1627.8 L1200.6,1629.7 L1201.1,1631.6 L1201.7,1633.6 L1202.3,1635.5 L1202.9,1637.4 L1203.5,1639.3 L1204.2,1641.2 L1204.8,1643.1 L1205.4,1645.0 L1206.0,1646.9 L1206.6,1648.8 L1207.3,1650.6 L1207.9,1652.5 L1208.5,1654.4 L1209.2,1656.3 L1209.8,1658.2 L1210.4,1660.0 L1211.1,1661.9 L1211.7,1663.8 L1212.4,1665.7 L1213.0,1667.5 L1213.6,1669.4 L1214.3,1671.3 L1214.9,1673.1 L1215.5,1675.0 L1216.2,1676.9 L1216.8,1678.8 L1217.4,1680.6 L1218.1,1682.5 L1218.7,1684.4 L1219.3,1686.2 L1219.9,1688.1 L1220.6,1690.0 L1221.2,1691.9 L1221.8,1693.8 L1222.4,1695.6 L1223.0,1697.5 L1223.6,1699.4 L1224.1,1701.3 L1224.7,1703.2 L1225.3,1705.1 L1225.9,1707.0 L1226.4,1708.9 L1227.0,1710.8 L1227.5,1712.7 L1228.1,1714.6 L1228.6,1716.5 L1229.2,1718.4 L1229.7,1720.4 L1230.3,1722.3 L1230.8,1724.2 L1231.4,1726.1 L1231.9,1728.0 L1232.5,1729.9 L1233.1,1731.9 L1233.6,1733.8 L1234.2,1735.7 L1234.8,1737.6 L1235.3,1739.5 L1235.9,1741.4 L1236.5,1743.3 L1237.1,1745.2 L1237.7,1747.1 L1238.4,1749.1 L1239.0,1751.0 L1239.7,1752.9 L1240.3,1754.8 L1241.0,1756.6 L1241.7,1758.5 L1242.4,1760.4 L1243.1,1762.3 L1243.8,1764.2 L1244.6,1766.1 L1245.3,1767.9 L1246.1,1769.8 L1246.9,1771.6 L1247.7,1773.5 L1248.6,1775.3 L1249.4,1777.2 L1250.3,1779.0 L1251.2,1780.9 L1252.1,1782.7 L1253.1,1784.5 L1254.0,1786.3 L1255.0,1788.1 L1256.0,1789.9 L1257.1,1791.7 L1258.1,1793.4 L1259.2,1795.2 L1260.3,1796.9 L1261.4,1798.7 L1262.6,1800.4 L1263.7,1802.1 L1264.9,1803.8 L1266.1,1805.4 L1267.3,1807.1 L1268.6,1808.7 L1269.9,1810.3 L1271.1,1811.9 L1272.5,1813.5 L1273.8,1815.0 L1275.1,1816.5 L1276.5,1818.0 L1277.9,1819.5 L1279.3,1820.9 L1280.7,1822.3 L1282.1,1823.7 L1283.6,1825.1 L1285.1,1826.4 L1286.6,1827.7 L1288.1,1829.0 L1289.6,1830.3 L1291.1,1831.5 L1292.7,1832.6 L1294.3,1833.8 L1295.9,1834.9 L1297.5,1836.0 L1299.1,1837.0 L1300.8,1838.0 L1302.5,1839.0 L1304.1,1839.9 L1305.8,1840.8 L1307.5,1841.6 L1309.3,1842.5 L1311.0,1843.3 L1312.8,1844.0 L1314.5,1844.8 L1316.3,1845.5 L1318.1,1846.1 L1319.9,1846.8 L1321.7,1847.4 L1323.6,1848.0 L1325.4,1848.5 L1327.3,1849.0 L1329.2,1849.6 L1331.0,1850.0 L1332.9,1850.5 L1334.8,1850.9 L1336.7,1851.3 L1338.7,1851.7 L1340.6,1852.0 L1342.5,1852.4 L1344.5,1852.7 L1346.4,1853.0 L1348.4,1853.3 L1350.4,1853.5 L1352.3,1853.8 L1354.3,1854.0 L1356.3,1854.2 L1358.3,1854.4 L1360.3,1854.5 L1362.3,1854.7 L1364.4,1854.8 L1366.4,1854.9 L1368.4,1855.0 L1370.4,1855.1 L1372.5,1855.2 L1374.5,1855.3 L1376.6,1855.3 L1378.6,1855.4 L1380.7,1855.4 L1382.7,1855.4 L1384.8,1855.4 L1386.8,1855.5 L1388.9,1855.5 L1390.9,1855.4 L1393.0,1855.4 L1395.1,1855.4 L1397.1,1855.4 L1399.2,1855.4 L1401.3,1855.3 L1403.3,1855.3 L1405.4,1855.2 L1407.4,1855.2 L1409.5,1855.1 L1411.6,1855.0 L1413.6,1855.0 L1415.7,1854.9 L1417.7,1854.8 L1419.8,1854.7 L1421.8,1854.6 L1423.9,1854.5 L1425.9,1854.3 L1428.0,1854.2 L1430.0,1854.1 L1432.1,1853.9 L1434.1,1853.7 L1436.2,1853.6 L1438.2,1853.4 L1440.2,1853.2 L1442.3,1853.0 L1444.3,1852.7 L1446.3,1852.5 L1448.3,1852.3 L1450.3,1852.0 L1452.3,1851.8 L1454.4,1851.5 L1456.4,1851.2 L1458.3,1850.9 L1460.3,1850.6 L1462.3,1850.2 L1464.3,1849.9 L1466.3,1849.5 L1468.3,1849.1 L1470.2,1848.8 L1472.2,1848.4 L1474.1,1847.9 L1476.1,1847.5 L1478.0,1847.0 L1480.0,1846.6 L1481.9,1846.1 L1483.8,1845.6 L1485.7,1845.1 L1487.6,1844.6 L1489.5,1844.0 L1491.4,1843.4 L1493.3,1842.8 L1495.2,1842.2 L1497.1,1841.6 L1498.9,1841.0 L1500.8,1840.3 L1502.6,1839.6 L1504.5,1839.0 L1506.3,1838.2 L1508.1,1837.5 L1509.9,1836.7 L1511.7,1836.0 L1513.5,1835.2 L1515.3,1834.4 L1517.1,1833.5 L1518.8,1832.7 L1520.6,1831.8 L1522.3,1830.9 L1524.1,1829.9 L1525.8,1829.0 L1527.5,1828.0 L1529.2,1827.0 L1530.9,1826.0 L1532.6,1825.0 L1534.2,1823.9 L1535.9,1822.8 L1537.5,1821.7 L1539.2,1820.6 L1540.8,1819.5 L1542.4,1818.3 L1544.0,1817.1 L1545.6,1815.9 L1547.1,1814.7 L1548.7,1813.4 L1550.2,1812.2 L1551.8,1810.9 L1553.3,1809.6 L1554.8,1808.3 L1556.2,1806.9 L1557.7,1805.6 L1559.2,1804.2 L1560.6,1802.8 L1562.0,1801.4 L1563.4,1800.0 L1564.8,1798.5 L1566.2,1797.1 L1567.6,1795.6 L1568.9,1794.1 L1570.2,1792.6 L1571.6,1791.1 L1572.8,1789.6 L1574.1,1788.1 L1575.4,1786.5 L1576.6,1785.0 L1577.8,1783.4 L1579.1,1781.8 L1580.2,1780.2 L1581.4,1778.6 L1582.6,1777.0 L1583.7,1775.3 L1584.8,1773.7 L1585.9,1772.0 L1587.0,1770.4 L1588.0,1768.7 L1589.1,1767.0 L1590.1,1765.3 L1591.1,1763.6 L1592.1,1761.9 L1593.1,1760.2 L1594.0,1758.4 L1595.0,1756.7 L1595.9,1754.9 L1596.8,1753.2 L1597.7,1751.4 L1598.6,1749.6 L1599.5,1747.9 L1600.4,1746.1 L1601.2,1744.3 L1602.0,1742.5 L1602.9,1740.7 L1603.7,1738.9 L1604.5,1737.0 L1605.3,1735.2 L1606.1,1733.4 L1606.8,1731.5 L1607.6,1729.7 L1608.3,1727.8 L1609.1,1726.0 L1609.8,1724.1 L1610.5,1722.2 L1611.3,1720.4 L1612.0,1718.5 L1612.7,1716.6 L1613.4,1714.7 L1614.1,1712.8 L1614.7,1710.9 L1615.4,1709.0 L1616.1,1707.1 L1616.7,1705.2 L1617.4,1703.3 L1618.1,1701.4 L1618.7,1699.5 L1619.4,1697.6 L1620.0,1695.7 L1620.6,1693.7 L1621.3,1691.8 L1621.9,1689.9 L1622.5,1688.0 L1623.2,1686.0 L1623.8,1684.1 L1624.4,1682.2 L1625.0,1680.3 L1625.7,1678.3 L1626.3,1676.4 L1626.9,1674.5 L1627.5,1672.5 L1628.2,1670.6 L1628.8,1668.7 L1629.4,1666.7 L1630.0,1664.8 L1630.6,1662.9 L1631.3,1661.0 L1631.9,1659.0 L1632.5,1657.1 L1633.1,1655.2 L1633.7,1653.2 L1634.3,1651.3 L1634.9,1649.4 L1635.5,1647.4 L1636.1,1645.5 L1636.7,1643.6 L1637.3,1641.6 L1637.9,1639.7 L1638.5,1637.8 L1639.1,1635.8 L1639.7,1633.9 L1640.3,1631.9 L1640.9,1630.0 L1641.5,1628.1 L1642.1,1626.1 L1642.6,1624.2 L1643.2,1622.3 L1643.8,1620.3 L1644.3,1618.4 L1644.9,1616.5 L1645.5,1614.5 L1646.0,1612.6 L1646.6,1610.7 L1647.1,1608.7 L1647.7,1606.8 L1648.2,1604.9 L1648.8,1602.9 L1649.3,1601.0 L1649.9,1599.0 L1650.4,1597.1 L1650.9,1595.2 L1651.4,1593.2 L1651.9,1591.3 L1652.5,1589.4 L1653.0,1587.4 L1653.5,1585.5 L1654.0,1583.6 L1654.5,1581.6 L1655.0,1579.7 L1655.5,1577.8 L1655.9,1575.8 L1656.4,1573.9 L1656.9,1572.0 L1657.4,1570.0 L1657.9,1568.1 L1658.3,1566.2 L1658.8,1564.2 L1659.2,1562.3 L1659.7,1560.4 L1660.2,1558.4 L1660.6,1556.5 L1661.1,1554.6 L1661.5,1552.6 L1661.9,1550.7 L1662.4,1548.8 L1662.8,1546.8 L1663.2,1544.9 L1663.7,1543.0 L1664.1,1541.0 L1664.5,1539.1 L1664.9,1537.2 L1665.4,1535.2 L1665.8,1533.3 L1666.2,1531.4 L1666.6,1529.4 L1667.0,1527.5 L1667.4,1525.6 L1667.8,1523.6 L1668.2,1521.7 L1668.6,1519.7 L1669.0,1517.8 L1669.4,1515.9 L1669.8,1513.9 L1670.2,1512.0 L1670.5,1510.1 L1670.9,1508.1 L1671.3,1506.2 L1671.7,1504.3 L1672.1,1502.3 L1672.4,1500.4 L1672.8,1498.4 L1673.2,1496.5 L1673.5,1494.6 L1673.9,1492.6 L1674.3,1490.7 L1674.6,1488.7 L1675.0,1486.8 L1675.4,1484.9 L1675.7,1482.9 L1676.1,1481.0 L1676.4,1479.0 L1676.8,1477.1 L1677.1,1475.1 L1677.5,1473.2 L1677.8,1471.2 L1678.2,1469.3 L1678.5,1467.4 L1678.9,1465.4 L1679.2,1463.5 L1679.6,1461.5 L1679.9,1459.6 L1680.3,1457.6 L1680.6,1455.7 L1680.9,1453.7 L1681.3,1451.8 L1681.6,1449.8 L1682.0,1447.9 L1682.3,1445.9 L1682.6,1444.0 L1683.0,1442.0 L1683.3,1440.1 L1683.7,1438.1 L1684.0,1436.1 L1684.3,1434.2 L1684.7,1432.2 L1685.0,1430.3 L1685.3,1428.3 L1685.7,1426.4 L1686.0,1424.4 L1686.3,1422.4 L1686.7,1420.5 L1687.0,1418.5 L1687.3,1416.5 L1687.7,1414.6 L1688.0,1412.6 L1688.3,1410.6 L1688.7,1408.7 L1689.0,1406.7 L1689.4,1404.7 L1689.7,1402.8 L1690.0,1400.8 L1690.4,1398.8 L1690.7,1396.9 L1691.0,1394.9 L1691.4,1392.9 L1691.7,1390.9 L1692.1,1389.0 L1692.4,1387.0 L1692.7,1385.0 L1693.1,1383.0 L1693.4,1381.1 L1693.8,1379.1 L1694.1,1377.1 L1694.5,1375.1 L1694.8,1373.1 L1695.2,1371.1 L1695.5,1369.2 L1695.9,1367.2 L1696.2,1365.2 L1696.6,1363.2 L1696.9,1361.2 L1697.3,1359.2 L1697.7,1357.2 L1698.0,1355.2 L1698.4,1353.2 L1698.8,1351.2 L1699.1,1349.2 L1699.5,1347.2 L1699.9,1345.3 L1700.2,1343.3 L1700.6,1341.2 L1701.0,1339.2 L1701.4,1337.2 L1701.7,1335.2 L1702.1,1333.2 L1702.5,1331.2 L1702.9,1329.2 L1703.3,1327.2 L1703.7,1325.2 L1704.1,1323.2 L1704.5,1321.2 L1704.9,1319.2 L1705.3,1317.1 L1705.7,1315.1 L1706.1,1313.1 L1706.5,1311.1 L1706.9,1309.1 L1707.3,1307.0 L1707.7,1305.0 L1708.1,1303.0 L1708.6,1301.0 L1709.0,1298.9 L1709.4,1296.9 L1709.8,1294.9 L1710.3,1292.8 L1710.7,1290.8 L1711.2,1288.8 L1711.6,1286.7 L1712.0,1284.7 L1712.5,1282.6 L1712.9,1280.6 L1713.4,1278.6 L1713.9,1276.5 L1714.3,1274.5 L1714.8,1272.4 L1715.3,1270.4 L1715.7,1268.3 L1716.2,1266.3 L1716.7,1264.2 L1717.2,1262.2 L1717.7,1260.1 L1718.2,1258.1 L1718.8,1256.1 L1719.3,1254.1 L1719.9,1252.1 L1720.4,1250.1 L1721.0,1248.2 L1721.7,1246.3 L1722.3,1244.4 L1723.0,1242.5 L1723.7,1240.6 L1724.4,1238.8 L1725.1,1237.0 L1725.9,1235.3 L1726.7,1233.6 L1727.5,1231.9 L1728.4,1230.3 L1729.3,1228.7 L1730.3,1227.1 L1731.2,1225.6 L1732.3,1224.1 L1733.3,1222.7 L1734.4,1221.4 L1735.6,1220.1 L1736.8,1218.8 L1738.0,1217.7 L1739.3,1216.5 L1740.7,1215.5 L1742.1,1214.5 L1743.5,1213.6 L1745.1,1212.7 L1746.6,1211.9 L1748.2,1211.3 L1749.8,1210.7 L1751.4,1210.2 L1753.1,1209.9 L1754.7,1209.7 L1756.4,1209.6 L1758.0,1209.7 L1759.6,1209.9 L1761.3,1210.3 L1762.8,1210.9 L1764.4,1211.6 L1765.9,1212.6 L1767.4,1213.7 L1768.8,1214.9 L1770.2,1216.3 L1771.6,1217.8 L1772.9,1219.4 L1774.2,1221.1 L1775.4,1222.9 L1776.7,1224.8 L1777.8,1226.7 L1779.0,1228.6 L1780.1,1230.6 L1781.1,1232.5 L1782.2,1234.5 L1783.2,1236.5 L1784.3,1238.5 L1785.3,1240.5 L1786.3,1242.5 L1787.4,1244.5 L1788.4,1246.4 L1789.5,1248.3 L1790.6,1250.1 L1791.7,1251.9 L1792.9,1253.6 L1794.1,1255.3 L1795.3,1256.9 L1796.6,1258.3 L1798.0,1259.8 L1799.4,1261.1 L1800.8,1262.3 L1802.4,1263.3 L1804.0,1264.3 L1805.7,1265.2 L1807.5,1266.0 L1809.3,1266.7 L1811.1,1267.3 L1813.0,1267.9 L1815.0,1268.4 L1817.0,1268.8 L1819.0,1269.2 L1821.0,1269.6 L1823.1,1270.0 L1825.2,1270.3 L1827.3,1270.6 L1829.4,1271.0 L1831.4,1271.3 L1833.5,1271.7 L1835.5,1272.1 L1837.5,1272.6 L1839.5,1273.1 L1841.3,1273.7 L1843.2,1274.3 L1844.9,1275.1 L1846.5,1275.9 L1848.1,1276.9 L1849.6,1277.9 L1850.9,1279.1 L1852.1,1280.4 L1853.3,1281.8 L1854.3,1283.3 L1855.3,1284.9 L1856.2,1286.6 L1857.0,1288.3 L1857.8,1290.1 L1858.5,1292.0 L1859.2,1293.9 L1859.9,1295.8 L1860.5,1297.7 L1861.2,1299.6 L1861.8,1301.5 L1862.4,1303.5 L1863.0,1305.4 L1863.7,1307.3 L1864.3,1309.3 L1864.9,1311.2 L1865.5,1313.1 L1866.1,1315.1 L1866.7,1317.0 L1867.3,1318.9 L1867.8,1320.9 L1868.4,1322.8 L1869.0,1324.7 L1869.6,1326.7 L1870.1,1328.6 L1870.7,1330.5 L1871.3,1332.5 L1871.8,1334.4 L1872.4,1336.3 L1872.9,1338.3 L1873.4,1340.2 L1874.0,1342.1 L1874.5,1344.1 L1875.0,1346.0 L1875.5,1347.9 L1876.1,1349.9 L1876.6,1351.8 L1877.1,1353.8 L1877.6,1355.7 L1878.1,1357.6 L1878.6,1359.6 L1879.1,1361.5 L1879.6,1363.5 L1880.1,1365.4 L1880.5,1367.3 L1881.0,1369.3 L1881.5,1371.2 L1882.0,1373.2 L1882.4,1375.1 L1882.9,1377.1 L1883.3,1379.0 L1883.8,1380.9 L1884.2,1382.9 L1884.7,1384.8 L1885.1,1386.8 L1885.6,1388.7 L1886.0,1390.7 L1886.5,1392.6 L1886.9,1394.6 L1887.3,1396.5 L1887.7,1398.5 L1888.2,1400.4 L1888.6,1402.4 L1889.0,1404.3 L1889.4,1406.3 L1889.8,1408.2 L1890.2,1410.2 L1890.6,1412.1 L1891.0,1414.1 L1891.4,1416.0 L1891.8,1418.0 L1892.2,1420.0 L1892.6,1421.9 L1893.0,1423.9 L1893.3,1425.8 L1893.7,1427.8 L1894.1,1429.7 L1894.5,1431.7 L1894.8,1433.7 L1895.2,1435.6 L1895.6,1437.6 L1895.9,1439.5 L1896.3,1441.5 L1896.6,1443.5 L1897.0,1445.4 L1897.4,1447.4 L1897.7,1449.4 L1898.0,1451.3 L1898.4,1453.3 L1898.7,1455.2 L1899.1,1457.2 L1899.4,1459.2 L1899.8,1461.2 L1900.1,1463.1 L1900.4,1465.1 L1900.7,1467.1 L1901.1,1469.0 L1901.4,1471.0 L1901.7,1473.0 L1902.0,1474.9 L1902.4,1476.9 L1902.7,1478.9 L1903.0,1480.9 L1903.3,1482.8 L1903.6,1484.8 L1903.9,1486.8 L1904.3,1488.8 L1904.6,1490.7 L1904.9,1492.7 L1905.2,1494.7 L1905.5,1496.7 L1905.8,1498.7 L1906.1,1500.6 L1906.4,1502.6 L1906.7,1504.6 L1907.0,1506.6 L1907.3,1508.6 L1907.6,1510.6 L1907.8,1512.6 L1908.1,1514.5 L1908.4,1516.5 L1908.7,1518.5 L1909.0,1520.5 L1909.3,1522.5 L1909.6,1524.5 L1909.9,1526.5 L1910.1,1528.5 L1910.4,1530.5 L1910.7,1532.4 L1911.0,1534.4 L1911.3,1536.4 L1911.6,1538.4 L1911.9,1540.4 L1912.1,1542.4 L1912.4,1544.4 L1912.7,1546.4 L1913.0,1548.4 L1913.3,1550.4 L1913.6,1552.4 L1913.8,1554.4 L1914.1,1556.4 L1914.4,1558.3 L1914.7,1560.3 L1915.0,1562.3 L1915.3,1564.3 L1915.6,1566.3 L1915.9,1568.3 L1916.1,1570.3 L1916.4,1572.3 L1916.7,1574.3 L1917.0,1576.3 L1917.3,1578.3 L1917.6,1580.3 L1917.9,1582.3 L1918.2,1584.3 L1918.5,1586.2 L1918.8,1588.2 L1919.1,1590.2 L1919.4,1592.2 L1919.7,1594.2 L1920.1,1596.2 L1920.4,1598.2 L1920.7,1600.2 L1921.0,1602.2 L1921.3,1604.1 L1921.7,1606.1 L1922.0,1608.1 L1922.3,1610.1 L1922.6,1612.1 L1923.0,1614.1 L1923.3,1616.0 L1923.6,1618.0 L1924.0,1620.0 L1924.3,1622.0 L1924.7,1624.0 L1925.0,1625.9 L1925.4,1627.9 L1925.7,1629.9 L1926.1,1631.9 L1926.5,1633.8 L1926.8,1635.8 L1927.2,1637.8 L1927.6,1639.7 L1928.0,1641.7 L1928.3,1643.7 L1928.7,1645.7 L1929.1,1647.6 L1929.5,1649.6 L1929.9,1651.5 L1930.3,1653.5 L1930.7,1655.5 L1931.1,1657.4 L1931.6,1659.4 L1932.0,1661.3 L1932.4,1663.3 L1932.8,1665.2 L1933.3,1667.2 L1933.7,1669.1 L1934.2,1671.1 L1934.6,1673.0 L1935.1,1675.0 L1935.5,1676.9 L1936.0,1678.9 L1936.5,1680.8 L1936.9,1682.7 L1937.4,1684.7 L1937.9,1686.6 L1938.4,1688.5 L1938.9,1690.5 L1939.4,1692.4 L1939.9,1694.3 L1940.4,1696.3 L1940.9,1698.2 L1941.5,1700.1 L1942.0,1702.0 L1942.6,1703.9 L1943.1,1705.8 L1943.7,1707.8 L1944.2,1709.7 L1944.8,1711.6 L1945.3,1713.5 L1945.9,1715.4 L1946.5,1717.3 L1947.1,1719.2 L1947.7,1721.1 L1948.3,1723.0 L1948.9,1724.9 L1949.5,1726.8 L1950.2,1728.6 L1950.8,1730.5 L1951.5,1732.4 L1952.1,1734.3 L1952.8,1736.2 L1953.4,1738.0 L1954.1,1739.9 L1954.8,1741.8 L1955.5,1743.6 L1956.2,1745.5 L1956.9,1747.4 L1957.6,1749.2 L1958.3,1751.1 L1959.0,1752.9 L1959.8,1754.8 L1960.5,1756.6 L1961.3,1758.5 L1962.0,1760.3 L1962.8,1762.2 L1963.6,1764.0 L1964.4,1765.8 L1965.2,1767.7 L1966.0,1769.5 L1966.8,1771.3 L1967.6,1773.1 L1968.4,1774.9 L1969.3,1776.8 L1970.1,1778.6 L1971.0,1780.4 L1971.9,1782.2 L1972.8,1784.0 L1973.6,1785.8 L1974.5,1787.6 L1975.5,1789.4 L1976.4,1791.1 L1977.3,1792.9 L1978.3,1794.7 L1979.2,1796.4 L1980.2,1798.2 L1981.2,1799.9 L1982.2,1801.6 L1983.2,1803.3 L1984.3,1805.0 L1985.4,1806.7 L1986.5,1808.4 L1987.6,1810.0 L1988.7,1811.6 L1989.9,1813.2 L1991.1,1814.8 L1992.3,1816.3 L1993.5,1817.8 L1994.8,1819.3 L1996.1,1820.7 L1997.5,1822.2 L1998.8,1823.5 L2000.2,1824.9 L2001.7,1826.2 L2003.1,1827.5 L2004.7,1828.8 L2006.2,1830.0 L2007.8,1831.1 L2009.4,1832.3 L2011.1,1833.3 L2012.8,1834.4 L2014.5,1835.4 L2016.3,1836.3 L2018.2,1837.2 L2020.0,1838.1 L2021.9,1839.0 L2023.8,1839.8 L2025.8,1840.5 L2027.8,1841.3 L2029.7,1842.0 L2031.7,1842.7 L2033.8,1843.4 L2035.8,1844.1 L2037.8,1844.7 L2039.9,1845.3 L2041.9,1846.0 L2043.9,1846.6 L2046.0,1847.2 L2048.0,1847.9 L2050.0,1848.5 L2052.0,1849.1 L2054.0,1849.8 L2056.0,1850.4 L2057.9,1851.1 L2059.8,1851.8 L2061.7,1852.5 L2063.5,1853.2 L2065.4,1854.0 L2067.1,1854.7 L2068.9,1855.5 L2070.5,1856.4 L2072.2,1857.3 L2073.8,1858.2 L2075.3,1859.1 L2076.8,1860.1" fill="none" stroke="#e60000" stroke-width="4.5" stroke-linejoin="round"/>
<g fill="#0a0a0a"><rect x="177.8" y="1633.8" width="5.2" height="5.2" rx="1.6"/><rect x="185.4" y="1634.5" width="5.2" height="5.2" rx="1.6"/><rect x="193.0" y="1632.3" width="5.2" height="5.2" rx="1.6"/><rect x="200.7" y="1627.2" width="5.2" height="5.2" rx="1.6"/><rect x="208.3" y="1622.4" width="5.2" height="5.2" rx="1.6"/><rect x="215.9" y="1626.5" width="5.2" height="5.2" rx="1.6"/><rect x="223.5" y="1621.5" width="5.2" height="5.2" rx="1.6"/><rect x="231.2" y="1615.5" width="5.2" height="5.2" rx="1.6"/><rect x="238.8" y="1619.3" width="5.2" height="5.2" rx="1.6"/><rect x="246.4" y="1620.4" width="5.2" height="5.2" rx="1.6"/><rect x="254.0" y="1621.4" width="5.2" height="5.2" rx="1.6"/><rect x="261.6" y="1616.7" width="5.2" height="5.2" rx="1.6"/><rect x="269.3" y="1616.3" width="5.2" height="5.2" rx="1.6"/><rect x="276.9" y="1615.3" width="5.2" height="5.2" rx="1.6"/><rect x="284.5" y="1612.7" width="5.2" height="5.2" rx="1.6"/><rect x="292.1" y="1603.7" width="5.2" height="5.2" rx="1.6"/><rect x="299.8" y="1598.7" width="5.2" height="5.2" rx="1.6"/><rect x="307.4" y="1592.6" width="5.2" height="5.2" rx="1.6"/><rect x="315.0" y="1587.5" width="5.2" height="5.2" rx="1.6"/><rect x="322.6" y="1581.4" width="5.2" height="5.2" rx="1.6"/><rect x="330.2" y="1581.4" width="5.2" height="5.2" rx="1.6"/><rect x="337.9" y="1586.3" width="5.2" height="5.2" rx="1.6"/><rect x="345.5" y="1588.2" width="5.2" height="5.2" rx="1.6"/><rect x="353.1" y="1587.6" width="5.2" height="5.2" rx="1.6"/><rect x="360.7" y="1587.6" width="5.2" height="5.2" rx="1.6"/><rect x="368.4" y="1587.1" width="5.2" height="5.2" rx="1.6"/><rect x="376.0" y="1589.5" width="5.2" height="5.2" rx="1.6"/><rect x="383.6" y="1585.5" width="5.2" height="5.2" rx="1.6"/><rect x="391.2" y="1587.6" width="5.2" height="5.2" rx="1.6"/><rect x="398.9" y="1584.9" width="5.2" height="5.2" rx="1.6"/><rect x="406.5" y="1589.6" width="5.2" height="5.2" rx="1.6"/><rect x="414.1" y="1587.7" width="5.2" height="5.2" rx="1.6"/><rect x="421.7" y="1577.2" width="5.2" height="5.2" rx="1.6"/><rect x="429.3" y="1569.1" width="5.2" height="5.2" rx="1.6"/><rect x="437.0" y="1568.5" width="5.2" height="5.2" rx="1.6"/><rect x="444.6" y="1574.2" width="5.2" height="5.2" rx="1.6"/><rect x="452.2" y="1578.7" width="5.2" height="5.2" rx="1.6"/><rect x="459.8" y="1573.2" width="5.2" height="5.2" rx="1.6"/><rect x="467.5" y="1565.2" width="5.2" height="5.2" rx="1.6"/><rect x="475.1" y="1552.6" width="5.2" height="5.2" rx="1.6"/><rect x="482.7" y="1541.9" width="5.2" height="5.2" rx="1.6"/><rect x="490.3" y="1532.6" width="5.2" height="5.2" rx="1.6"/><rect x="497.9" y="1520.6" width="5.2" height="5.2" rx="1.6"/><rect x="505.6" y="1508.8" width="5.2" height="5.2" rx="1.6"/><rect x="513.2" y="1500.5" width="5.2" height="5.2" rx="1.6"/><rect x="520.8" y="1498.8" width="5.2" height="5.2" rx="1.6"/><rect x="528.4" y="1492.9" width="5.2" height="5.2" rx="1.6"/><rect x="536.1" y="1483.9" width="5.2" height="5.2" rx="1.6"/><rect x="543.7" y="1486.0" width="5.2" height="5.2" rx="1.6"/><rect x="551.3" y="1498.7" width="5.2" height="5.2" rx="1.6"/><rect x="558.9" y="1514.8" width="5.2" height="5.2" rx="1.6"/><rect x="566.5" y="1523.9" width="5.2" height="5.2" rx="1.6"/><rect x="574.2" y="1535.9" width="5.2" height="5.2" rx="1.6"/><rect x="581.8" y="1552.0" width="5.2" height="5.2" rx="1.6"/><rect x="589.4" y="1564.3" width="5.2" height="5.2" rx="1.6"/><rect x="597.0" y="1574.4" width="5.2" height="5.2" rx="1.6"/><rect x="604.7" y="1581.5" width="5.2" height="5.2" rx="1.6"/><rect x="612.3" y="1587.9" width="5.2" height="5.2" rx="1.6"/><rect x="619.9" y="1594.2" width="5.2" height="5.2" rx="1.6"/><rect x="627.5" y="1596.2" width="5.2" height="5.2" rx="1.6"/><rect x="635.1" y="1602.9" width="5.2" height="5.2" rx="1.6"/><rect x="642.8" y="1601.7" width="5.2" height="5.2" rx="1.6"/><rect x="650.4" y="1607.9" width="5.2" height="5.2" rx="1.6"/><rect x="658.0" y="1602.0" width="5.2" height="5.2" rx="1.6"/><rect x="665.6" y="1609.3" width="5.2" height="5.2" rx="1.6"/><rect x="673.3" y="1614.3" width="5.2" height="5.2" rx="1.6"/><rect x="680.9" y="1622.2" width="5.2" height="5.2" rx="1.6"/><rect x="688.5" y="1619.4" width="5.2" height="5.2" rx="1.6"/><rect x="696.1" y="1624.7" width="5.2" height="5.2" rx="1.6"/><rect x="703.8" y="1629.7" width="5.2" height="5.2" rx="1.6"/><rect x="711.4" y="1631.7" width="5.2" height="5.2" rx="1.6"/><rect x="719.0" y="1632.7" width="5.2" height="5.2" rx="1.6"/><rect x="726.6" y="1630.9" width="5.2" height="5.2" rx="1.6"/><rect x="734.2" y="1625.5" width="5.2" height="5.2" rx="1.6"/><rect x="741.9" y="1618.3" width="5.2" height="5.2" rx="1.6"/><rect x="749.5" y="1614.7" width="5.2" height="5.2" rx="1.6"/><rect x="757.1" y="1620.3" width="5.2" height="5.2" rx="1.6"/><rect x="764.7" y="1618.0" width="5.2" height="5.2" rx="1.6"/><rect x="772.4" y="1615.3" width="5.2" height="5.2" rx="1.6"/><rect x="780.0" y="1611.0" width="5.2" height="5.2" rx="1.6"/><rect x="787.6" y="1608.2" width="5.2" height="5.2" rx="1.6"/><rect x="795.2" y="1605.0" width="5.2" height="5.2" rx="1.6"/><rect x="802.8" y="1601.5" width="5.2" height="5.2" rx="1.6"/><rect x="810.5" y="1598.8" width="5.2" height="5.2" rx="1.6"/><rect x="818.1" y="1593.8" width="5.2" height="5.2" rx="1.6"/><rect x="825.7" y="1587.6" width="5.2" height="5.2" rx="1.6"/><rect x="833.3" y="1590.4" width="5.2" height="5.2" rx="1.6"/><rect x="841.0" y="1580.3" width="5.2" height="5.2" rx="1.6"/><rect x="848.6" y="1568.6" width="5.2" height="5.2" rx="1.6"/><rect x="856.2" y="1563.1" width="5.2" height="5.2" rx="1.6"/><rect x="863.8" y="1558.9" width="5.2" height="5.2" rx="1.6"/><rect x="871.4" y="1551.7" width="5.2" height="5.2" rx="1.6"/><rect x="879.1" y="1536.4" width="5.2" height="5.2" rx="1.6"/><rect x="886.7" y="1516.6" width="5.2" height="5.2" rx="1.6"/><rect x="894.3" y="1509.7" width="5.2" height="5.2" rx="1.6"/><rect x="901.9" y="1498.8" width="5.2" height="5.2" rx="1.6"/><rect x="909.6" y="1488.2" width="5.2" height="5.2" rx="1.6"/><rect x="917.2" y="1477.5" width="5.2" height="5.2" rx="1.6"/><rect x="924.8" y="1464.1" width="5.2" height="5.2" rx="1.6"/><rect x="932.4" y="1442.5" width="5.2" height="5.2" rx="1.6"/><rect x="940.0" y="1426.7" width="5.2" height="5.2" rx="1.6"/><rect x="947.7" y="1410.3" width="5.2" height="5.2" rx="1.6"/><rect x="955.3" y="1389.6" width="5.2" height="5.2" rx="1.6"/><rect x="962.9" y="1369.8" width="5.2" height="5.2" rx="1.6"/><rect x="970.5" y="1354.4" width="5.2" height="5.2" rx="1.6"/><rect x="978.2" y="1338.3" width="5.2" height="5.2" rx="1.6"/><rect x="985.8" y="1322.4" width="5.2" height="5.2" rx="1.6"/><rect x="993.4" y="1299.8" width="5.2" height="5.2" rx="1.6"/><rect x="1001.0" y="1281.0" width="5.2" height="5.2" rx="1.6"/><rect x="1008.7" y="1266.8" width="5.2" height="5.2" rx="1.6"/><rect x="1016.3" y="1254.5" width="5.2" height="5.2" rx="1.6"/><rect x="1023.9" y="1243.6" width="5.2" height="5.2" rx="1.6"/><rect x="1031.5" y="1229.2" width="5.2" height="5.2" rx="1.6"/><rect x="1039.1" y="1218.1" width="5.2" height="5.2" rx="1.6"/><rect x="1046.8" y="1213.5" width="5.2" height="5.2" rx="1.6"/><rect x="1054.4" y="1218.0" width="5.2" height="5.2" rx="1.6"/><rect x="1062.0" y="1225.4" width="5.2" height="5.2" rx="1.6"/><rect x="1069.6" y="1234.6" width="5.2" height="5.2" rx="1.6"/><rect x="1077.3" y="1236.3" width="5.2" height="5.2" rx="1.6"/><rect x="1084.9" y="1243.3" width="5.2" height="5.2" rx="1.6"/><rect x="1092.5" y="1252.5" width="5.2" height="5.2" rx="1.6"/><rect x="1100.1" y="1249.9" width="5.2" height="5.2" rx="1.6"/><rect x="1107.7" y="1255.9" width="5.2" height="5.2" rx="1.6"/><rect x="1115.4" y="1249.9" width="5.2" height="5.2" rx="1.6"/><rect x="1123.0" y="1251.0" width="5.2" height="5.2" rx="1.6"/><rect x="1130.6" y="1256.2" width="5.2" height="5.2" rx="1.6"/><rect x="1138.2" y="1259.3" width="5.2" height="5.2" rx="1.6"/><rect x="1145.9" y="1275.0" width="5.2" height="5.2" rx="1.6"/><rect x="1153.5" y="1284.1" width="5.2" height="5.2" rx="1.6"/><rect x="1161.1" y="1290.2" width="5.2" height="5.2" rx="1.6"/><rect x="1168.7" y="1301.1" width="5.2" height="5.2" rx="1.6"/><rect x="1176.3" y="1311.8" width="5.2" height="5.2" rx="1.6"/><rect x="1184.0" y="1321.7" width="5.2" height="5.2" rx="1.6"/><rect x="1191.6" y="1321.7" width="5.2" height="5.2" rx="1.6"/><rect x="1199.2" y="1321.7" width="5.2" height="5.2" rx="1.6"/><rect x="1206.8" y="1323.3" width="5.2" height="5.2" rx="1.6"/><rect x="1214.5" y="1340.4" width="5.2" height="5.2" rx="1.6"/><rect x="1222.1" y="1354.1" width="5.2" height="5.2" rx="1.6"/><rect x="1229.7" y="1374.7" width="5.2" height="5.2" rx="1.6"/><rect x="1237.3" y="1394.7" width="5.2" height="5.2" rx="1.6"/><rect x="1245.0" y="1421.8" width="5.2" height="5.2" rx="1.6"/><rect x="1252.6" y="1441.3" width="5.2" height="5.2" rx="1.6"/><rect x="1260.2" y="1467.6" width="5.2" height="5.2" rx="1.6"/><rect x="1267.8" y="1493.2" width="5.2" height="5.2" rx="1.6"/><rect x="1275.4" y="1518.8" width="5.2" height="5.2" rx="1.6"/><rect x="1283.1" y="1552.2" width="5.2" height="5.2" rx="1.6"/><rect x="1290.7" y="1571.0" width="5.2" height="5.2" rx="1.6"/><rect x="1298.3" y="1593.0" width="5.2" height="5.2" rx="1.6"/><rect x="1305.9" y="1608.0" width="5.2" height="5.2" rx="1.6"/><rect x="1313.6" y="1621.1" width="5.2" height="5.2" rx="1.6"/><rect x="1321.2" y="1627.7" width="5.2" height="5.2" rx="1.6"/><rect x="1328.8" y="1640.0" width="5.2" height="5.2" rx="1.6"/><rect x="1336.4" y="1648.8" width="5.2" height="5.2" rx="1.6"/><rect x="1344.0" y="1649.9" width="5.2" height="5.2" rx="1.6"/><rect x="1351.7" y="1651.6" width="5.2" height="5.2" rx="1.6"/><rect x="1359.3" y="1650.4" width="5.2" height="5.2" rx="1.6"/><rect x="1366.9" y="1657.3" width="5.2" height="5.2" rx="1.6"/><rect x="1374.5" y="1665.8" width="5.2" height="5.2" rx="1.6"/><rect x="1382.2" y="1672.5" width="5.2" height="5.2" rx="1.6"/><rect x="1389.8" y="1668.5" width="5.2" height="5.2" rx="1.6"/><rect x="1397.4" y="1666.3" width="5.2" height="5.2" rx="1.6"/><rect x="1405.0" y="1672.5" width="5.2" height="5.2" rx="1.6"/><rect x="1412.6" y="1675.2" width="5.2" height="5.2" rx="1.6"/><rect x="1420.3" y="1674.7" width="5.2" height="5.2" rx="1.6"/><rect x="1427.9" y="1672.1" width="5.2" height="5.2" rx="1.6"/><rect x="1435.5" y="1671.9" width="5.2" height="5.2" rx="1.6"/><rect x="1443.1" y="1668.4" width="5.2" height="5.2" rx="1.6"/><rect x="1450.8" y="1673.4" width="5.2" height="5.2" rx="1.6"/><rect x="1458.4" y="1674.7" width="5.2" height="5.2" rx="1.6"/><rect x="1466.0" y="1671.0" width="5.2" height="5.2" rx="1.6"/><rect x="1473.6" y="1670.4" width="5.2" height="5.2" rx="1.6"/><rect x="1481.2" y="1671.8" width="5.2" height="5.2" rx="1.6"/><rect x="1488.9" y="1665.4" width="5.2" height="5.2" rx="1.6"/><rect x="1496.5" y="1655.7" width="5.2" height="5.2" rx="1.6"/><rect x="1504.1" y="1659.4" width="5.2" height="5.2" rx="1.6"/><rect x="1511.7" y="1661.6" width="5.2" height="5.2" rx="1.6"/><rect x="1519.4" y="1658.7" width="5.2" height="5.2" rx="1.6"/><rect x="1527.0" y="1640.2" width="5.2" height="5.2" rx="1.6"/><rect x="1534.6" y="1633.9" width="5.2" height="5.2" rx="1.6"/><rect x="1542.2" y="1638.8" width="5.2" height="5.2" rx="1.6"/><rect x="1549.9" y="1640.9" width="5.2" height="5.2" rx="1.6"/><rect x="1557.5" y="1630.4" width="5.2" height="5.2" rx="1.6"/><rect x="1565.1" y="1614.4" width="5.2" height="5.2" rx="1.6"/><rect x="1572.7" y="1599.5" width="5.2" height="5.2" rx="1.6"/><rect x="1580.3" y="1590.2" width="5.2" height="5.2" rx="1.6"/><rect x="1588.0" y="1582.4" width="5.2" height="5.2" rx="1.6"/><rect x="1595.6" y="1571.6" width="5.2" height="5.2" rx="1.6"/><rect x="1603.2" y="1557.7" width="5.2" height="5.2" rx="1.6"/><rect x="1610.8" y="1547.2" width="5.2" height="5.2" rx="1.6"/><rect x="1618.5" y="1525.9" width="5.2" height="5.2" rx="1.6"/><rect x="1626.1" y="1501.3" width="5.2" height="5.2" rx="1.6"/><rect x="1633.7" y="1465.2" width="5.2" height="5.2" rx="1.6"/><rect x="1641.3" y="1436.4" width="5.2" height="5.2" rx="1.6"/><rect x="1648.9" y="1395.4" width="5.2" height="5.2" rx="1.6"/><rect x="1656.6" y="1363.0" width="5.2" height="5.2" rx="1.6"/><rect x="1664.2" y="1322.4" width="5.2" height="5.2" rx="1.6"/><rect x="1671.8" y="1291.9" width="5.2" height="5.2" rx="1.6"/><rect x="1679.4" y="1243.4" width="5.2" height="5.2" rx="1.6"/><rect x="1687.1" y="1201.8" width="5.2" height="5.2" rx="1.6"/><rect x="1694.7" y="1163.4" width="5.2" height="5.2" rx="1.6"/><rect x="1702.3" y="1135.2" width="5.2" height="5.2" rx="1.6"/><rect x="1709.9" y="1109.2" width="5.2" height="5.2" rx="1.6"/><rect x="1717.5" y="1082.6" width="5.2" height="5.2" rx="1.6"/><rect x="1725.2" y="1060.4" width="5.2" height="5.2" rx="1.6"/><rect x="1732.8" y="1040.0" width="5.2" height="5.2" rx="1.6"/><rect x="1740.4" y="1024.5" width="5.2" height="5.2" rx="1.6"/><rect x="1748.0" y="1030.2" width="5.2" height="5.2" rx="1.6"/><rect x="1755.7" y="1031.1" width="5.2" height="5.2" rx="1.6"/><rect x="1763.3" y="1035.3" width="5.2" height="5.2" rx="1.6"/><rect x="1770.9" y="1042.9" width="5.2" height="5.2" rx="1.6"/><rect x="1778.5" y="1051.4" width="5.2" height="5.2" rx="1.6"/><rect x="1786.1" y="1061.7" width="5.2" height="5.2" rx="1.6"/><rect x="1793.8" y="1078.5" width="5.2" height="5.2" rx="1.6"/><rect x="1801.4" y="1088.5" width="5.2" height="5.2" rx="1.6"/><rect x="1809.0" y="1094.2" width="5.2" height="5.2" rx="1.6"/><rect x="1816.6" y="1090.9" width="5.2" height="5.2" rx="1.6"/><rect x="1824.3" y="1091.4" width="5.2" height="5.2" rx="1.6"/><rect x="1831.9" y="1094.2" width="5.2" height="5.2" rx="1.6"/><rect x="1839.5" y="1108.5" width="5.2" height="5.2" rx="1.6"/><rect x="1847.1" y="1117.0" width="5.2" height="5.2" rx="1.6"/><rect x="1854.8" y="1124.7" width="5.2" height="5.2" rx="1.6"/><rect x="1862.4" y="1135.8" width="5.2" height="5.2" rx="1.6"/><rect x="1870.0" y="1155.0" width="5.2" height="5.2" rx="1.6"/><rect x="1877.6" y="1176.0" width="5.2" height="5.2" rx="1.6"/><rect x="1885.2" y="1203.7" width="5.2" height="5.2" rx="1.6"/><rect x="1892.9" y="1238.5" width="5.2" height="5.2" rx="1.6"/><rect x="1900.5" y="1282.4" width="5.2" height="5.2" rx="1.6"/><rect x="1908.1" y="1318.5" width="5.2" height="5.2" rx="1.6"/><rect x="1915.7" y="1361.4" width="5.2" height="5.2" rx="1.6"/><rect x="1923.4" y="1402.1" width="5.2" height="5.2" rx="1.6"/><rect x="1931.0" y="1446.2" width="5.2" height="5.2" rx="1.6"/><rect x="1938.6" y="1502.8" width="5.2" height="5.2" rx="1.6"/><rect x="1946.2" y="1533.2" width="5.2" height="5.2" rx="1.6"/><rect x="1953.8" y="1556.6" width="5.2" height="5.2" rx="1.6"/><rect x="1961.5" y="1579.5" width="5.2" height="5.2" rx="1.6"/><rect x="1969.1" y="1603.8" width="5.2" height="5.2" rx="1.6"/><rect x="1976.7" y="1629.5" width="5.2" height="5.2" rx="1.6"/><rect x="1984.3" y="1646.6" width="5.2" height="5.2" rx="1.6"/><rect x="1992.0" y="1660.5" width="5.2" height="5.2" rx="1.6"/><rect x="1999.6" y="1666.3" width="5.2" height="5.2" rx="1.6"/><rect x="2007.2" y="1670.1" width="5.2" height="5.2" rx="1.6"/><rect x="2014.8" y="1672.5" width="5.2" height="5.2" rx="1.6"/><rect x="2022.4" y="1673.4" width="5.2" height="5.2" rx="1.6"/><rect x="2030.1" y="1673.5" width="5.2" height="5.2" rx="1.6"/><rect x="2037.7" y="1671.3" width="5.2" height="5.2" rx="1.6"/><rect x="2045.3" y="1668.7" width="5.2" height="5.2" rx="1.6"/><rect x="2052.9" y="1667.7" width="5.2" height="5.2" rx="1.6"/><rect x="2060.6" y="1670.6" width="5.2" height="5.2" rx="1.6"/><rect x="2068.2" y="1670.3" width="5.2" height="5.2" rx="1.6"/><rect x="2075.8" y="1667.4" width="5.2" height="5.2" rx="1.6"/></g>
<path d="M181.2,1615.6 L183.3,1615.6 L185.4,1615.6 L187.5,1615.7 L189.6,1615.7 L191.6,1615.7 L193.7,1615.8 L195.8,1615.8 L197.8,1615.9 L199.9,1616.0 L201.9,1616.0 L204.0,1616.1 L206.0,1616.1 L208.0,1616.2 L210.1,1616.3 L212.1,1616.4 L214.1,1616.5 L216.2,1616.5 L218.2,1616.6 L220.2,1616.7 L222.2,1616.8 L224.2,1616.9 L226.2,1617.0 L228.2,1617.1 L230.2,1617.2 L232.2,1617.3 L234.2,1617.4 L236.2,1617.5 L238.2,1617.6 L240.2,1617.7 L242.2,1617.8 L244.1,1617.9 L246.1,1618.0 L248.1,1618.1 L250.1,1618.3 L252.1,1618.4 L254.0,1618.5 L256.0,1618.6 L258.0,1618.7 L259.9,1618.8 L261.9,1619.0 L263.9,1619.1 L265.8,1619.2 L267.8,1619.3 L269.8,1619.4 L271.7,1619.6 L273.7,1619.7 L275.6,1619.8 L277.6,1619.9 L279.6,1620.0 L281.5,1620.1 L283.5,1620.3 L285.4,1620.4 L287.4,1620.5 L289.3,1620.6 L291.3,1620.7 L293.2,1620.8 L295.2,1621.0 L297.2,1621.1 L299.1,1621.2 L301.1,1621.3 L303.0,1621.4 L305.0,1621.5 L307.0,1621.6 L308.9,1621.7 L310.9,1621.8 L312.8,1621.9 L314.8,1622.0 L316.8,1622.1 L318.7,1622.2 L320.7,1622.3 L322.7,1622.4 L324.6,1622.5 L326.6,1622.5 L328.6,1622.6 L330.6,1622.7 L332.5,1622.8 L334.5,1622.9 L336.5,1622.9 L338.5,1623.0 L340.5,1623.0 L342.5,1623.1 L344.4,1623.2 L346.4,1623.2 L348.4,1623.3 L350.4,1623.3 L352.4,1623.4 L354.4,1623.4 L356.4,1623.4 L358.5,1623.5 L360.5,1623.5 L362.5,1623.5 L364.5,1623.5 L366.5,1623.5 L368.6,1623.5 L370.6,1623.5 L372.6,1623.5 L374.7,1623.5 L376.7,1623.5 L378.7,1623.5 L380.8,1623.5 L382.9,1623.5 L384.9,1623.4 L387.0,1623.4 L389.0,1623.4 L391.1,1623.3 L393.2,1623.3 L395.3,1623.2 L397.4,1623.1 L399.5,1623.1 L401.6,1623.0 L403.7,1622.9 L405.8,1622.8 L407.9,1622.7 L410.0,1622.6 L412.1,1622.4 L414.2,1622.3 L416.2,1622.1 L418.3,1621.9 L420.4,1621.7 L422.4,1621.5 L424.5,1621.2 L426.5,1620.9 L428.5,1620.6 L430.5,1620.3 L432.5,1619.9 L434.4,1619.4 L436.3,1619.0 L438.2,1618.5 L440.1,1617.9 L441.9,1617.3 L443.7,1616.7 L445.5,1616.0 L447.2,1615.3 L448.9,1614.5 L450.6,1613.7 L452.2,1612.8 L453.8,1611.9 L455.4,1610.9 L456.9,1609.9 L458.4,1608.8 L459.9,1607.7 L461.3,1606.5 L462.7,1605.3 L464.1,1604.1 L465.5,1602.8 L466.8,1601.5 L468.1,1600.2 L469.4,1598.8 L470.7,1597.4 L472.0,1595.9 L473.2,1594.4 L474.5,1592.9 L475.7,1591.4 L476.9,1589.8 L478.1,1588.2 L479.3,1586.6 L480.5,1584.9 L481.6,1583.2 L482.8,1581.5 L483.9,1579.8 L485.1,1578.0 L486.2,1576.3 L487.4,1574.5 L488.5,1572.7 L489.7,1570.9 L490.8,1569.0 L492.0,1567.2 L493.1,1565.3 L494.3,1563.4 L495.4,1561.6 L496.6,1559.7 L497.8,1557.8 L499.0,1555.8 L500.2,1553.9 L501.4,1552.0 L502.6,1550.1 L503.8,1548.2 L505.1,1546.3 L506.4,1544.4 L507.6,1542.6 L508.9,1540.8 L510.2,1539.1 L511.6,1537.4 L512.9,1535.9 L514.2,1534.3 L515.6,1532.9 L516.9,1531.6 L518.3,1530.4 L519.7,1529.3 L521.1,1528.3 L522.5,1527.5 L524.0,1526.8 L525.4,1526.3 L526.8,1525.9 L528.3,1525.7 L529.8,1525.7 L531.3,1525.8 L532.8,1526.2 L534.3,1526.7 L535.8,1527.3 L537.3,1528.1 L538.8,1529.0 L540.3,1530.0 L541.8,1531.1 L543.2,1532.3 L544.7,1533.6 L546.1,1534.9 L547.5,1536.2 L548.8,1537.6 L550.2,1539.0 L551.5,1540.5 L552.8,1542.0 L554.1,1543.5 L555.4,1545.1 L556.6,1546.7 L557.8,1548.3 L559.1,1549.9 L560.3,1551.6 L561.5,1553.3 L562.7,1555.0 L563.8,1556.7 L565.0,1558.5 L566.2,1560.2 L567.3,1562.0 L568.5,1563.8 L569.6,1565.6 L570.8,1567.4 L571.9,1569.2 L573.0,1571.0 L574.2,1572.8 L575.3,1574.6 L576.5,1576.4 L577.6,1578.2 L578.8,1580.0 L579.9,1581.7 L581.1,1583.5 L582.3,1585.2 L583.4,1587.0 L584.6,1588.7 L585.8,1590.4 L587.1,1592.0 L588.3,1593.7 L589.5,1595.3 L590.8,1596.9 L592.1,1598.4 L593.3,1599.9 L594.7,1601.4 L596.0,1602.9 L597.3,1604.3 L598.7,1605.7 L600.1,1607.0 L601.5,1608.3 L603.0,1609.5 L604.4,1610.7 L605.9,1611.8 L607.5,1612.9 L609.0,1614.0 L610.6,1615.0 L612.1,1616.0 L613.8,1616.9 L615.4,1617.8 L617.0,1618.7 L618.7,1619.5 L620.4,1620.3 L622.1,1621.0 L623.8,1621.7 L625.6,1622.4 L627.3,1623.0 L629.1,1623.6 L630.9,1624.2 L632.7,1624.7 L634.6,1625.2 L636.4,1625.7 L638.3,1626.1 L640.2,1626.5 L642.1,1626.9 L644.0,1627.2 L645.9,1627.6 L647.8,1627.9 L649.8,1628.1 L651.7,1628.4 L653.7,1628.6 L655.7,1628.8 L657.7,1629.0 L659.7,1629.2 L661.7,1629.3 L663.7,1629.4 L665.8,1629.5 L667.8,1629.6 L669.8,1629.6 L671.9,1629.7 L674.0,1629.7 L676.0,1629.7 L678.1,1629.7 L680.2,1629.7 L682.3,1629.7 L684.3,1629.6 L686.4,1629.6 L688.5,1629.5 L690.6,1629.4 L692.7,1629.3 L694.8,1629.2 L697.0,1629.1 L699.1,1629.0 L701.2,1628.9 L703.3,1628.8 L705.4,1628.6 L707.5,1628.5 L709.6,1628.4 L711.7,1628.2 L713.8,1628.1 L715.9,1628.0 L718.0,1627.8 L720.1,1627.7 L722.2,1627.5 L724.3,1627.4 L726.4,1627.2 L728.5,1627.1 L730.6,1626.9 L732.6,1626.8 L734.7,1626.6 L736.8,1626.4 L738.9,1626.3 L740.9,1626.1 L743.0,1625.9 L745.0,1625.7 L747.1,1625.5 L749.1,1625.3 L751.2,1625.1 L753.2,1624.9 L755.2,1624.6 L757.3,1624.4 L759.3,1624.2 L761.3,1623.9 L763.3,1623.6 L765.3,1623.4 L767.3,1623.1 L769.3,1622.8 L771.3,1622.5 L773.3,1622.2 L775.3,1621.8 L777.2,1621.5 L779.2,1621.1 L781.2,1620.8 L783.1,1620.4 L785.1,1620.0 L787.0,1619.6 L788.9,1619.2 L790.9,1618.8 L792.8,1618.3 L794.7,1617.8 L796.6,1617.4 L798.5,1616.9 L800.4,1616.3 L802.2,1615.8 L804.1,1615.3 L806.0,1614.7 L807.8,1614.1 L809.7,1613.5 L811.5,1612.9 L813.3,1612.3 L815.1,1611.6 L817.0,1610.9 L818.8,1610.2 L820.5,1609.5 L822.3,1608.8 L824.1,1608.0 L825.9,1607.2 L827.6,1606.4 L829.4,1605.6 L831.1,1604.7 L832.8,1603.9 L834.5,1603.0 L836.2,1602.0 L837.9,1601.1 L839.6,1600.1 L841.3,1599.2 L842.9,1598.1 L844.6,1597.1 L846.2,1596.1 L847.8,1595.0 L849.4,1593.9 L851.1,1592.8 L852.6,1591.7 L854.2,1590.5 L855.8,1589.4 L857.4,1588.2 L858.9,1587.0 L860.4,1585.8 L862.0,1584.5 L863.5,1583.3 L865.0,1582.0 L866.5,1580.7 L868.0,1579.4 L869.4,1578.0 L870.9,1576.7 L872.3,1575.3 L873.8,1574.0 L875.2,1572.6 L876.6,1571.2 L878.0,1569.7 L879.4,1568.3 L880.7,1566.8 L882.1,1565.4 L883.4,1563.9 L884.8,1562.4 L886.1,1560.9 L887.4,1559.4 L888.7,1557.8 L890.0,1556.3 L891.2,1554.7 L892.5,1553.2 L893.7,1551.6 L894.9,1550.0 L896.2,1548.4 L897.4,1546.7 L898.5,1545.1 L899.7,1543.5 L900.9,1541.8 L902.0,1540.2 L903.1,1538.5 L904.3,1536.8 L905.4,1535.1 L906.5,1533.4 L907.5,1531.7 L908.6,1530.0 L909.6,1528.3 L910.7,1526.5 L911.7,1524.8 L912.7,1523.0 L913.7,1521.3 L914.7,1519.5 L915.6,1517.7 L916.6,1516.0 L917.5,1514.2 L918.5,1512.4 L919.4,1510.6 L920.3,1508.8 L921.2,1507.0 L922.1,1505.1 L923.0,1503.3 L923.8,1501.5 L924.7,1499.7 L925.5,1497.8 L926.3,1496.0 L927.2,1494.1 L928.0,1492.2 L928.8,1490.4 L929.6,1488.5 L930.3,1486.6 L931.1,1484.8 L931.9,1482.9 L932.6,1481.0 L933.4,1479.1 L934.1,1477.2 L934.9,1475.3 L935.6,1473.4 L936.3,1471.5 L937.0,1469.6 L937.7,1467.7 L938.4,1465.8 L939.1,1463.9 L939.8,1462.0 L940.4,1460.1 L941.1,1458.2 L941.8,1456.2 L942.4,1454.3 L943.1,1452.4 L943.7,1450.5 L944.4,1448.6 L945.0,1446.6 L945.6,1444.7 L946.3,1442.8 L946.9,1440.9 L947.5,1438.9 L948.1,1437.0 L948.7,1435.1 L949.3,1433.2 L949.9,1431.2 L950.5,1429.3 L951.1,1427.4 L951.7,1425.5 L952.3,1423.6 L952.9,1421.6 L953.5,1419.7 L954.1,1417.8 L954.6,1415.9 L955.2,1414.0 L955.8,1412.1 L956.4,1410.2 L957.0,1408.3 L957.5,1406.4 L958.1,1404.5 L958.7,1402.6 L959.3,1400.7 L959.8,1398.8 L960.4,1396.9 L961.0,1395.1 L961.6,1393.2 L962.1,1391.3 L962.7,1389.4 L963.3,1387.6 L963.9,1385.7 L964.5,1383.9 L965.0,1382.0 L965.6,1380.1 L966.2,1378.3 L966.8,1376.4 L967.4,1374.6 L968.0,1372.8 L968.6,1370.9 L969.2,1369.1 L969.8,1367.2 L970.4,1365.4 L971.0,1363.5 L971.6,1361.7 L972.2,1359.9 L972.8,1358.0 L973.5,1356.2 L974.1,1354.3 L974.7,1352.5 L975.4,1350.7 L976.0,1348.8 L976.6,1347.0 L977.3,1345.1 L977.9,1343.3 L978.6,1341.4 L979.3,1339.6 L979.9,1337.7 L980.6,1335.9 L981.3,1334.1 L982.0,1332.2 L982.7,1330.3 L983.4,1328.5 L984.1,1326.6 L984.8,1324.8 L985.5,1322.9 L986.3,1321.0 L987.0,1319.2 L987.7,1317.3 L988.5,1315.4 L989.3,1313.5 L990.0,1311.6 L990.8,1309.8 L991.6,1307.9 L992.4,1306.0 L993.2,1304.1 L994.0,1302.2 L994.8,1300.3 L995.6,1298.3 L996.5,1296.4 L997.3,1294.5 L998.2,1292.6 L999.1,1290.6 L999.9,1288.7 L1000.8,1286.7 L1001.7,1284.8 L1002.6,1282.8 L1003.5,1280.8 L1004.5,1278.9 L1005.4,1276.9 L1006.4,1274.9 L1007.3,1273.0 L1008.3,1271.0 L1009.3,1269.0 L1010.3,1267.1 L1011.4,1265.2 L1012.4,1263.3 L1013.5,1261.4 L1014.5,1259.6 L1015.6,1257.8 L1016.8,1256.1 L1017.9,1254.4 L1019.0,1252.7 L1020.2,1251.1 L1021.4,1249.6 L1022.7,1248.1 L1023.9,1246.6 L1025.2,1245.3 L1026.5,1244.0 L1027.8,1242.8 L1029.2,1241.7 L1030.6,1240.6 L1032.0,1239.7 L1033.4,1238.8 L1034.9,1238.1 L1036.4,1237.4 L1037.9,1236.8 L1039.5,1236.4 L1041.1,1236.0 L1042.7,1235.8 L1044.4,1235.7 L1046.1,1235.7 L1047.8,1235.9 L1049.6,1236.1 L1051.4,1236.5 L1053.2,1237.0 L1055.0,1237.6 L1056.9,1238.3 L1058.8,1239.1 L1060.6,1239.9 L1062.5,1240.8 L1064.4,1241.8 L1066.3,1242.9 L1068.1,1244.0 L1070.0,1245.2 L1071.8,1246.4 L1073.6,1247.6 L1075.4,1248.9 L1077.2,1250.2 L1078.9,1251.6 L1080.6,1252.9 L1082.3,1254.2 L1083.9,1255.6 L1085.5,1256.9 L1087.0,1258.2 L1088.6,1259.5 L1090.1,1260.7 L1091.6,1261.9 L1093.1,1263.1 L1094.7,1264.2 L1096.2,1265.2 L1097.8,1266.1 L1099.5,1266.9 L1101.1,1267.7 L1102.8,1268.3 L1104.6,1268.8 L1106.5,1269.2 L1108.4,1269.4 L1110.3,1269.6 L1112.3,1269.7 L1114.3,1269.7 L1116.4,1269.7 L1118.5,1269.5 L1120.6,1269.4 L1122.7,1269.2 L1124.9,1269.1 L1127.0,1268.9 L1129.1,1268.7 L1131.3,1268.6 L1133.4,1268.5 L1135.4,1268.5 L1137.5,1268.5 L1139.5,1268.6 L1141.5,1268.9 L1143.4,1269.2 L1145.3,1269.6 L1147.1,1270.1 L1148.9,1270.7 L1150.6,1271.3 L1152.4,1272.1 L1154.1,1272.9 L1155.8,1273.7 L1157.5,1274.6 L1159.1,1275.5 L1160.8,1276.5 L1162.5,1277.5 L1164.1,1278.5 L1165.8,1279.5 L1167.5,1280.6 L1169.1,1281.6 L1170.8,1282.7 L1172.4,1283.8 L1174.1,1284.9 L1175.7,1286.1 L1177.4,1287.2 L1179.0,1288.4 L1180.6,1289.6 L1182.3,1290.8 L1183.9,1292.0 L1185.5,1293.3 L1187.1,1294.6 L1188.7,1295.8 L1190.2,1297.1 L1191.8,1298.5 L1193.3,1299.8 L1194.9,1301.1 L1196.4,1302.5 L1197.9,1303.9 L1199.4,1305.3 L1200.9,1306.7 L1202.3,1308.1 L1203.7,1309.6 L1205.2,1311.1 L1206.6,1312.5 L1208.0,1314.0 L1209.3,1315.5 L1210.7,1317.1 L1212.0,1318.6 L1213.3,1320.2 L1214.5,1321.7 L1215.8,1323.3 L1217.0,1324.9 L1218.2,1326.5 L1219.4,1328.2 L1220.5,1329.8 L1221.7,1331.5 L1222.7,1333.1 L1223.8,1334.8 L1224.9,1336.5 L1225.9,1338.2 L1226.9,1339.9 L1227.8,1341.6 L1228.8,1343.4 L1229.7,1345.1 L1230.6,1346.9 L1231.5,1348.7 L1232.4,1350.4 L1233.2,1352.2 L1234.1,1354.0 L1234.9,1355.8 L1235.7,1357.6 L1236.5,1359.5 L1237.2,1361.3 L1238.0,1363.1 L1238.7,1365.0 L1239.4,1366.8 L1240.2,1368.7 L1240.8,1370.5 L1241.5,1372.4 L1242.2,1374.3 L1242.9,1376.1 L1243.5,1378.0 L1244.2,1379.9 L1244.8,1381.8 L1245.4,1383.7 L1246.1,1385.6 L1246.7,1387.5 L1247.3,1389.4 L1247.9,1391.3 L1248.5,1393.2 L1249.1,1395.1 L1249.6,1397.0 L1250.2,1398.9 L1250.8,1400.8 L1251.4,1402.7 L1251.9,1404.6 L1252.5,1406.6 L1253.0,1408.5 L1253.6,1410.4 L1254.1,1412.3 L1254.7,1414.2 L1255.2,1416.2 L1255.7,1418.1 L1256.2,1420.0 L1256.8,1422.0 L1257.3,1423.9 L1257.8,1425.8 L1258.3,1427.8 L1258.8,1429.7 L1259.3,1431.7 L1259.8,1433.6 L1260.3,1435.5 L1260.8,1437.5 L1261.3,1439.4 L1261.8,1441.4 L1262.2,1443.3 L1262.7,1445.3 L1263.2,1447.2 L1263.7,1449.2 L1264.2,1451.1 L1264.6,1453.1 L1265.1,1455.0 L1265.6,1457.0 L1266.0,1458.9 L1266.5,1460.9 L1267.0,1462.8 L1267.4,1464.8 L1267.9,1466.7 L1268.4,1468.7 L1268.8,1470.6 L1269.3,1472.6 L1269.8,1474.5 L1270.2,1476.5 L1270.7,1478.5 L1271.1,1480.4 L1271.6,1482.4 L1272.1,1484.3 L1272.5,1486.3 L1273.0,1488.2 L1273.5,1490.2 L1273.9,1492.1 L1274.4,1494.1 L1274.8,1496.0 L1275.3,1498.0 L1275.8,1499.9 L1276.3,1501.9 L1276.7,1503.9 L1277.2,1505.8 L1277.7,1507.7 L1278.2,1509.7 L1278.6,1511.6 L1279.1,1513.6 L1279.6,1515.5 L1280.1,1517.5 L1280.6,1519.4 L1281.1,1521.4 L1281.6,1523.3 L1282.1,1525.2 L1282.6,1527.2 L1283.1,1529.1 L1283.6,1531.1 L1284.1,1533.0 L1284.7,1534.9 L1285.2,1536.9 L1285.7,1538.8 L1286.2,1540.7 L1286.8,1542.6 L1287.3,1544.6 L1287.9,1546.5 L1288.4,1548.4 L1289.0,1550.3 L1289.5,1552.2 L1290.1,1554.1 L1290.7,1556.1 L1291.3,1558.0 L1291.9,1559.9 L1292.5,1561.8 L1293.1,1563.7 L1293.7,1565.6 L1294.3,1567.5 L1295.0,1569.3 L1295.6,1571.2 L1296.3,1573.1 L1297.0,1575.0 L1297.7,1576.8 L1298.4,1578.7 L1299.1,1580.6 L1299.8,1582.4 L1300.6,1584.2 L1301.4,1586.1 L1302.2,1587.9 L1303.0,1589.7 L1303.8,1591.5 L1304.7,1593.4 L1305.6,1595.2 L1306.5,1596.9 L1307.4,1598.7 L1308.4,1600.5 L1309.3,1602.3 L1310.3,1604.0 L1311.4,1605.8 L1312.4,1607.5 L1313.5,1609.2 L1314.6,1610.9 L1315.8,1612.6 L1316.9,1614.3 L1318.1,1616.0 L1319.3,1617.6 L1320.6,1619.2 L1321.9,1620.8 L1323.2,1622.4 L1324.5,1623.9 L1325.9,1625.4 L1327.3,1626.9 L1328.7,1628.3 L1330.1,1629.7 L1331.6,1631.0 L1333.1,1632.3 L1334.7,1633.6 L1336.2,1634.8 L1337.8,1635.9 L1339.4,1637.0 L1341.1,1638.1 L1342.7,1639.0 L1344.4,1639.9 L1346.2,1640.8 L1347.9,1641.6 L1349.7,1642.3 L1351.5,1642.9 L1353.4,1643.5 L1355.2,1644.1 L1357.1,1644.6 L1359.0,1645.0 L1360.9,1645.4 L1362.9,1645.8 L1364.8,1646.1 L1366.8,1646.4 L1368.8,1646.6 L1370.8,1646.8 L1372.8,1647.0 L1374.8,1647.2 L1376.9,1647.3 L1378.9,1647.5 L1381.0,1647.6 L1383.0,1647.7 L1385.1,1647.8 L1387.1,1647.9 L1389.2,1648.0 L1391.3,1648.1 L1393.3,1648.2 L1395.4,1648.3 L1397.4,1648.5 L1399.5,1648.6 L1401.5,1648.7 L1403.6,1648.9 L1405.6,1649.0 L1407.6,1649.2 L1409.7,1649.4 L1411.7,1649.5 L1413.7,1649.7 L1415.8,1649.9 L1417.8,1650.0 L1419.8,1650.2 L1421.8,1650.4 L1423.8,1650.5 L1425.8,1650.7 L1427.9,1650.8 L1429.9,1650.9 L1431.9,1651.0 L1433.9,1651.1 L1435.9,1651.2 L1437.9,1651.3 L1439.9,1651.4 L1441.9,1651.4 L1443.9,1651.4 L1445.9,1651.4 L1447.9,1651.4 L1449.9,1651.4 L1451.8,1651.3 L1453.8,1651.2 L1455.8,1651.1 L1457.8,1650.9 L1459.8,1650.8 L1461.8,1650.6 L1463.8,1650.4 L1465.8,1650.1 L1467.7,1649.9 L1469.7,1649.6 L1471.7,1649.3 L1473.7,1648.9 L1475.6,1648.6 L1477.6,1648.2 L1479.6,1647.8 L1481.5,1647.3 L1483.5,1646.9 L1485.4,1646.4 L1487.3,1645.9 L1489.3,1645.4 L1491.2,1644.8 L1493.1,1644.2 L1495.0,1643.6 L1496.9,1643.0 L1498.8,1642.4 L1500.7,1641.7 L1502.6,1641.0 L1504.5,1640.3 L1506.4,1639.6 L1508.2,1638.9 L1510.1,1638.1 L1511.9,1637.3 L1513.7,1636.5 L1515.6,1635.7 L1517.4,1634.8 L1519.2,1633.9 L1521.0,1633.0 L1522.8,1632.1 L1524.5,1631.2 L1526.3,1630.2 L1528.0,1629.3 L1529.8,1628.3 L1531.5,1627.3 L1533.2,1626.2 L1534.9,1625.2 L1536.6,1624.1 L1538.3,1623.0 L1539.9,1621.9 L1541.6,1620.8 L1543.2,1619.7 L1544.8,1618.5 L1546.4,1617.3 L1548.0,1616.1 L1549.5,1614.9 L1551.1,1613.7 L1552.6,1612.4 L1554.2,1611.2 L1555.7,1609.9 L1557.2,1608.6 L1558.6,1607.2 L1560.1,1605.9 L1561.5,1604.6 L1562.9,1603.2 L1564.3,1601.8 L1565.7,1600.4 L1567.1,1599.0 L1568.4,1597.6 L1569.7,1596.1 L1571.0,1594.7 L1572.3,1593.2 L1573.6,1591.7 L1574.8,1590.2 L1576.1,1588.7 L1577.3,1587.1 L1578.5,1585.6 L1579.7,1584.0 L1580.8,1582.4 L1582.0,1580.8 L1583.1,1579.2 L1584.2,1577.6 L1585.3,1576.0 L1586.4,1574.4 L1587.4,1572.7 L1588.5,1571.0 L1589.5,1569.4 L1590.5,1567.7 L1591.5,1566.0 L1592.5,1564.3 L1593.5,1562.6 L1594.4,1560.8 L1595.4,1559.1 L1596.3,1557.3 L1597.2,1555.6 L1598.1,1553.8 L1599.0,1552.0 L1599.9,1550.2 L1600.7,1548.5 L1601.6,1546.7 L1602.4,1544.8 L1603.3,1543.0 L1604.1,1541.2 L1604.9,1539.4 L1605.7,1537.5 L1606.5,1535.7 L1607.3,1533.8 L1608.0,1532.0 L1608.8,1530.1 L1609.6,1528.2 L1610.3,1526.4 L1611.0,1524.5 L1611.8,1522.6 L1612.5,1520.7 L1613.2,1518.8 L1613.9,1516.9 L1614.6,1515.0 L1615.3,1513.1 L1616.0,1511.2 L1616.6,1509.3 L1617.3,1507.4 L1618.0,1505.4 L1618.6,1503.5 L1619.3,1501.6 L1619.9,1499.7 L1620.6,1497.7 L1621.2,1495.8 L1621.9,1493.9 L1622.5,1491.9 L1623.1,1490.0 L1623.7,1488.1 L1624.4,1486.1 L1625.0,1484.2 L1625.6,1482.3 L1626.2,1480.3 L1626.8,1478.4 L1627.4,1476.5 L1628.0,1474.5 L1628.6,1472.6 L1629.2,1470.7 L1629.8,1468.7 L1630.4,1466.8 L1631.0,1464.8 L1631.6,1462.9 L1632.1,1461.0 L1632.7,1459.0 L1633.3,1457.1 L1633.9,1455.2 L1634.4,1453.2 L1635.0,1451.3 L1635.6,1449.3 L1636.1,1447.4 L1636.7,1445.5 L1637.3,1443.5 L1637.8,1441.6 L1638.4,1439.6 L1638.9,1437.7 L1639.5,1435.8 L1640.0,1433.8 L1640.6,1431.9 L1641.1,1430.0 L1641.6,1428.0 L1642.2,1426.1 L1642.7,1424.1 L1643.2,1422.2 L1643.7,1420.2 L1644.3,1418.3 L1644.8,1416.4 L1645.3,1414.4 L1645.8,1412.5 L1646.3,1410.5 L1646.9,1408.6 L1647.4,1406.7 L1647.9,1404.7 L1648.4,1402.8 L1648.9,1400.8 L1649.4,1398.9 L1649.9,1396.9 L1650.4,1395.0 L1650.9,1393.1 L1651.4,1391.1 L1651.9,1389.2 L1652.3,1387.2 L1652.8,1385.3 L1653.3,1383.3 L1653.8,1381.4 L1654.3,1379.5 L1654.7,1377.5 L1655.2,1375.6 L1655.7,1373.6 L1656.2,1371.7 L1656.6,1369.7 L1657.1,1367.8 L1657.6,1365.8 L1658.0,1363.9 L1658.5,1361.9 L1659.0,1360.0 L1659.4,1358.1 L1659.9,1356.1 L1660.3,1354.2 L1660.8,1352.2 L1661.2,1350.3 L1661.7,1348.3 L1662.1,1346.4 L1662.6,1344.4 L1663.0,1342.5 L1663.4,1340.5 L1663.9,1338.6 L1664.3,1336.6 L1664.8,1334.7 L1665.2,1332.7 L1665.6,1330.8 L1666.1,1328.8 L1666.5,1326.9 L1666.9,1324.9 L1667.3,1323.0 L1667.8,1321.0 L1668.2,1319.1 L1668.6,1317.2 L1669.0,1315.2 L1669.5,1313.3 L1669.9,1311.3 L1670.3,1309.4 L1670.7,1307.4 L1671.1,1305.5 L1671.5,1303.5 L1671.9,1301.6 L1672.4,1299.6 L1672.8,1297.7 L1673.2,1295.7 L1673.6,1293.8 L1674.0,1291.8 L1674.4,1289.9 L1674.8,1287.9 L1675.2,1286.0 L1675.6,1284.0 L1676.0,1282.0 L1676.4,1280.1 L1676.8,1278.1 L1677.2,1276.2 L1677.6,1274.2 L1678.0,1272.3 L1678.4,1270.3 L1678.8,1268.4 L1679.1,1266.4 L1679.5,1264.5 L1679.9,1262.5 L1680.3,1260.6 L1680.7,1258.6 L1681.1,1256.7 L1681.5,1254.7 L1681.8,1252.8 L1682.2,1250.8 L1682.6,1248.9 L1683.0,1246.9 L1683.4,1245.0 L1683.8,1243.0 L1684.1,1241.0 L1684.5,1239.1 L1684.9,1237.1 L1685.3,1235.2 L1685.6,1233.2 L1686.0,1231.3 L1686.4,1229.3 L1686.8,1227.4 L1687.1,1225.4 L1687.5,1223.5 L1687.9,1221.5 L1688.3,1219.6 L1688.6,1217.6 L1689.0,1215.6 L1689.4,1213.7 L1689.7,1211.7 L1690.1,1209.8 L1690.5,1207.8 L1690.8,1205.9 L1691.2,1203.9 L1691.6,1202.0 L1691.9,1200.0 L1692.3,1198.0 L1692.7,1196.1 L1693.0,1194.1 L1693.4,1192.2 L1693.8,1190.2 L1694.1,1188.3 L1694.5,1186.3 L1694.9,1184.4 L1695.2,1182.4 L1695.6,1180.4 L1695.9,1178.5 L1696.3,1176.5 L1696.7,1174.6 L1697.0,1172.6 L1697.4,1170.7 L1697.8,1168.7 L1698.1,1166.8 L1698.5,1164.8 L1698.9,1162.8 L1699.2,1160.9 L1699.6,1158.9 L1699.9,1157.0 L1700.3,1155.0 L1700.7,1153.1 L1701.0,1151.1 L1701.4,1149.1 L1701.8,1147.2 L1702.2,1145.2 L1702.5,1143.3 L1702.9,1141.3 L1703.3,1139.3 L1703.7,1137.4 L1704.1,1135.4 L1704.5,1133.5 L1704.9,1131.5 L1705.3,1129.5 L1705.7,1127.6 L1706.1,1125.6 L1706.5,1123.6 L1706.9,1121.7 L1707.3,1119.7 L1707.7,1117.7 L1708.2,1115.8 L1708.6,1113.8 L1709.1,1111.8 L1709.5,1109.9 L1710.0,1107.9 L1710.4,1105.9 L1710.9,1104.0 L1711.4,1102.0 L1711.9,1100.0 L1712.4,1098.0 L1712.9,1096.0 L1713.4,1094.1 L1713.9,1092.1 L1714.4,1090.1 L1714.9,1088.1 L1715.5,1086.1 L1716.0,1084.1 L1716.6,1082.2 L1717.2,1080.2 L1717.7,1078.2 L1718.3,1076.2 L1718.9,1074.2 L1719.6,1072.2 L1720.2,1070.2 L1720.8,1068.2 L1721.5,1066.2 L1722.1,1064.2 L1722.8,1062.2 L1723.5,1060.2 L1724.2,1058.2 L1724.9,1056.2 L1725.6,1054.2 L1726.3,1052.2 L1727.1,1050.2 L1727.8,1048.2 L1728.6,1046.3 L1729.5,1044.3 L1730.3,1042.5 L1731.2,1040.6 L1732.2,1038.9 L1733.1,1037.1 L1734.2,1035.5 L1735.2,1033.9 L1736.3,1032.4 L1737.5,1031.0 L1738.7,1029.7 L1740.0,1028.4 L1741.4,1027.3 L1742.8,1026.3 L1744.3,1025.4 L1745.9,1024.7 L1747.5,1024.1 L1749.1,1023.6 L1750.8,1023.2 L1752.5,1023.1 L1754.3,1023.0 L1756.0,1023.2 L1757.7,1023.5 L1759.5,1023.9 L1761.1,1024.6 L1762.8,1025.4 L1764.4,1026.4 L1766.0,1027.5 L1767.5,1028.8 L1768.9,1030.2 L1770.3,1031.7 L1771.6,1033.3 L1772.9,1035.0 L1774.1,1036.7 L1775.3,1038.5 L1776.4,1040.4 L1777.5,1042.3 L1778.6,1044.2 L1779.6,1046.2 L1780.5,1048.1 L1781.5,1050.1 L1782.4,1052.0 L1783.3,1054.0 L1784.2,1055.9 L1785.1,1057.8 L1786.0,1059.7 L1786.9,1061.6 L1787.8,1063.5 L1788.8,1065.3 L1789.8,1067.0 L1790.8,1068.8 L1791.8,1070.4 L1792.9,1072.0 L1794.1,1073.6 L1795.3,1075.1 L1796.6,1076.5 L1797.9,1077.8 L1799.3,1079.0 L1800.8,1080.2 L1802.4,1081.2 L1804.1,1082.2 L1805.9,1083.0 L1807.7,1083.8 L1809.7,1084.4 L1811.7,1085.0 L1813.8,1085.5 L1815.9,1086.0 L1818.1,1086.5 L1820.3,1086.9 L1822.4,1087.3 L1824.6,1087.8 L1826.7,1088.3 L1828.7,1088.8 L1830.7,1089.5 L1832.6,1090.2 L1834.4,1090.9 L1836.2,1091.8 L1837.9,1092.7 L1839.5,1093.7 L1841.0,1094.7 L1842.5,1095.9 L1843.9,1097.0 L1845.3,1098.3 L1846.6,1099.6 L1847.8,1101.0 L1849.0,1102.4 L1850.2,1103.8 L1851.3,1105.3 L1852.3,1106.9 L1853.3,1108.5 L1854.3,1110.1 L1855.2,1111.8 L1856.1,1113.5 L1857.0,1115.2 L1857.8,1117.0 L1858.6,1118.8 L1859.3,1120.6 L1860.1,1122.4 L1860.8,1124.3 L1861.5,1126.2 L1862.2,1128.0 L1862.8,1129.9 L1863.5,1131.8 L1864.1,1133.8 L1864.8,1135.7 L1865.4,1137.6 L1866.0,1139.5 L1866.6,1141.4 L1867.2,1143.3 L1867.8,1145.3 L1868.4,1147.2 L1869.0,1149.1 L1869.6,1151.0 L1870.1,1153.0 L1870.7,1154.9 L1871.3,1156.8 L1871.8,1158.7 L1872.4,1160.7 L1872.9,1162.6 L1873.4,1164.5 L1874.0,1166.5 L1874.5,1168.4 L1875.0,1170.4 L1875.5,1172.3 L1876.0,1174.2 L1876.5,1176.2 L1877.0,1178.1 L1877.5,1180.1 L1878.0,1182.0 L1878.5,1184.0 L1879.0,1185.9 L1879.4,1187.9 L1879.9,1189.8 L1880.4,1191.8 L1880.8,1193.7 L1881.3,1195.7 L1881.7,1197.6 L1882.2,1199.6 L1882.6,1201.5 L1883.0,1203.5 L1883.5,1205.5 L1883.9,1207.4 L1884.3,1209.4 L1884.7,1211.3 L1885.1,1213.3 L1885.5,1215.3 L1885.9,1217.2 L1886.3,1219.2 L1886.7,1221.2 L1887.1,1223.1 L1887.5,1225.1 L1887.9,1227.1 L1888.3,1229.0 L1888.7,1231.0 L1889.0,1233.0 L1889.4,1234.9 L1889.8,1236.9 L1890.1,1238.9 L1890.5,1240.9 L1890.9,1242.8 L1891.2,1244.8 L1891.6,1246.8 L1891.9,1248.8 L1892.3,1250.7 L1892.6,1252.7 L1893.0,1254.7 L1893.3,1256.7 L1893.6,1258.6 L1894.0,1260.6 L1894.3,1262.6 L1894.6,1264.6 L1895.0,1266.6 L1895.3,1268.5 L1895.6,1270.5 L1895.9,1272.5 L1896.3,1274.5 L1896.6,1276.5 L1896.9,1278.4 L1897.2,1280.4 L1897.5,1282.4 L1897.9,1284.4 L1898.2,1286.4 L1898.5,1288.3 L1898.8,1290.3 L1899.1,1292.3 L1899.4,1294.3 L1899.7,1296.3 L1900.0,1298.3 L1900.3,1300.2 L1900.6,1302.2 L1900.9,1304.2 L1901.2,1306.2 L1901.5,1308.2 L1901.8,1310.2 L1902.1,1312.1 L1902.5,1314.1 L1902.8,1316.1 L1903.1,1318.1 L1903.4,1320.1 L1903.7,1322.1 L1904.0,1324.0 L1904.3,1326.0 L1904.6,1328.0 L1904.9,1330.0 L1905.2,1332.0 L1905.5,1333.9 L1905.8,1335.9 L1906.1,1337.9 L1906.4,1339.9 L1906.7,1341.9 L1907.0,1343.8 L1907.3,1345.8 L1907.6,1347.8 L1907.9,1349.8 L1908.2,1351.8 L1908.6,1353.7 L1908.9,1355.7 L1909.2,1357.7 L1909.5,1359.7 L1909.8,1361.6 L1910.1,1363.6 L1910.5,1365.6 L1910.8,1367.6 L1911.1,1369.5 L1911.4,1371.5 L1911.8,1373.5 L1912.1,1375.4 L1912.4,1377.4 L1912.8,1379.4 L1913.1,1381.4 L1913.5,1383.3 L1913.8,1385.3 L1914.1,1387.3 L1914.5,1389.2 L1914.8,1391.2 L1915.2,1393.2 L1915.5,1395.1 L1915.9,1397.1 L1916.3,1399.0 L1916.6,1401.0 L1917.0,1403.0 L1917.4,1404.9 L1917.7,1406.9 L1918.1,1408.8 L1918.5,1410.8 L1918.9,1412.8 L1919.3,1414.7 L1919.6,1416.7 L1920.0,1418.6 L1920.4,1420.6 L1920.8,1422.5 L1921.2,1424.5 L1921.6,1426.4 L1922.0,1428.4 L1922.4,1430.3 L1922.8,1432.3 L1923.2,1434.2 L1923.6,1436.2 L1924.0,1438.1 L1924.4,1440.1 L1924.8,1442.0 L1925.3,1444.0 L1925.7,1445.9 L1926.1,1447.9 L1926.5,1449.8 L1926.9,1451.8 L1927.4,1453.7 L1927.8,1455.7 L1928.2,1457.6 L1928.7,1459.6 L1929.1,1461.5 L1929.5,1463.5 L1930.0,1465.4 L1930.4,1467.4 L1930.8,1469.3 L1931.3,1471.3 L1931.7,1473.2 L1932.1,1475.2 L1932.6,1477.1 L1933.0,1479.1 L1933.5,1481.0 L1933.9,1483.0 L1934.4,1484.9 L1934.8,1486.9 L1935.3,1488.9 L1935.7,1490.8 L1936.2,1492.8 L1936.6,1494.7 L1937.1,1496.7 L1937.5,1498.6 L1938.0,1500.6 L1938.4,1502.5 L1938.9,1504.5 L1939.3,1506.5 L1939.8,1508.4 L1940.3,1510.4 L1940.7,1512.3 L1941.2,1514.3 L1941.6,1516.3 L1942.1,1518.2 L1942.6,1520.2 L1943.0,1522.1 L1943.5,1524.1 L1943.9,1526.1 L1944.4,1528.0 L1944.9,1530.0 L1945.3,1532.0 L1945.8,1534.0 L1946.2,1535.9 L1946.7,1537.9 L1947.2,1539.9 L1947.6,1541.8 L1948.1,1543.8 L1948.6,1545.8 L1949.1,1547.7 L1949.5,1549.7 L1950.0,1551.7 L1950.5,1553.7 L1951.0,1555.6 L1951.5,1557.6 L1952.0,1559.5 L1952.5,1561.5 L1953.0,1563.4 L1953.6,1565.4 L1954.1,1567.3 L1954.6,1569.3 L1955.2,1571.2 L1955.7,1573.2 L1956.3,1575.1 L1956.9,1577.0 L1957.4,1579.0 L1958.0,1580.9 L1958.6,1582.8 L1959.2,1584.7 L1959.9,1586.6 L1960.5,1588.5 L1961.2,1590.4 L1961.8,1592.3 L1962.5,1594.1 L1963.2,1596.0 L1963.9,1597.9 L1964.6,1599.7 L1965.3,1601.6 L1966.1,1603.4 L1966.8,1605.3 L1967.6,1607.1 L1968.4,1608.9 L1969.2,1610.7 L1970.0,1612.5 L1970.8,1614.3 L1971.7,1616.1 L1972.6,1617.9 L1973.5,1619.6 L1974.4,1621.4 L1975.3,1623.1 L1976.3,1624.8 L1977.2,1626.5 L1978.2,1628.3 L1979.2,1629.9 L1980.3,1631.6 L1981.3,1633.3 L1982.4,1635.0 L1983.5,1636.6 L1984.6,1638.2 L1985.8,1639.9 L1986.9,1641.5 L1988.1,1643.1 L1989.3,1644.6 L1990.6,1646.2 L1991.8,1647.8 L1993.1,1649.3 L1994.4,1650.8 L1995.8,1652.3 L1997.1,1653.8 L1998.5,1655.2 L1999.9,1656.7 L2001.3,1658.1 L2002.7,1659.5 L2004.2,1660.8 L2005.7,1662.2 L2007.2,1663.5 L2008.7,1664.8 L2010.2,1666.1 L2011.8,1667.3 L2013.4,1668.6 L2015.0,1669.8 L2016.6,1670.9 L2018.2,1672.1 L2019.9,1673.2 L2021.6,1674.3 L2023.3,1675.3 L2025.0,1676.3 L2026.8,1677.3 L2028.5,1678.3 L2030.3,1679.2 L2032.1,1680.1 L2033.9,1681.0 L2035.8,1681.8 L2037.6,1682.6 L2039.5,1683.3 L2041.4,1684.1 L2043.2,1684.8 L2045.1,1685.5 L2047.1,1686.2 L2049.0,1686.8 L2050.9,1687.5 L2052.8,1688.1 L2054.7,1688.7 L2056.7,1689.3 L2058.6,1689.9 L2060.5,1690.6 L2062.4,1691.2 L2064.3,1691.8 L2066.2,1692.4 L2068.1,1693.0 L2070.0,1693.6 L2071.9,1694.3 L2073.7,1695.0 L2075.5,1695.6 L2077.4,1696.3" fill="none" stroke="#9a0530" stroke-width="4.6" stroke-linejoin="round"/>
<text transform="matrix(0.68909,0.00000,0.00000,0.69787,34.37,90.24)" font-family='"Liberation Sans", Arial, sans-serif' font-weight="normal" font-size="100" textLength="122.22" lengthAdjust="spacingAndGlyphs" fill="#000">(a)</text>
<text transform="matrix(0.68818,0.00000,0.00000,0.69894,43.07,947.12)" font-family='"Liberation Sans", Arial, sans-serif' font-weight="normal" font-size="100" textLength="122.22" lengthAdjust="spacingAndGlyphs" fill="#000">(b)</text>
<text transform="matrix(0.39059,0.00000,0.00000,0.37846,211.67,104.30)" font-family='Carlito, Calibri, "Liberation Sans", sans-serif' font-weight="bold" font-size="100" textLength="435.22" lengthAdjust="spacingAndGlyphs" fill="#000">10 Ce-HAp</text>
<text transform="matrix(0.38125,0.00000,0.00000,0.37385,1134.64,112.80)" font-family='Carlito, Calibri, "Liberation Sans", sans-serif' font-weight="bold" font-size="100" textLength="180.81" lengthAdjust="spacingAndGlyphs" fill="#000">O 1s</text>
<text transform="matrix(0.39646,0.00000,0.00000,0.35429,1764.22,110.10)" font-family='Carlito, Calibri, "Liberation Sans", sans-serif' font-weight="bold" font-size="100" textLength="741.36" lengthAdjust="spacingAndGlyphs" fill="#000">before Ar<tspan font-size="48%" dy="-30">+</tspan><tspan dy="30"> etching</tspan></text>
<text transform="matrix(0.39248,0.00000,0.00000,0.37231,348.52,529.90)" font-family='Carlito, Calibri, "Liberation Sans", sans-serif' font-weight="bold" font-size="100" textLength="229.50" lengthAdjust="spacingAndGlyphs" fill="#000">O KLL</text>
<text transform="matrix(0.39009,0.00000,0.00000,0.37143,501.12,577.00)" font-family='Carlito, Calibri, "Liberation Sans", sans-serif' font-weight="bold" font-size="100" textLength="230.23" lengthAdjust="spacingAndGlyphs" fill="#000">Ce 3d</text>
<text transform="matrix(0.38863,0.00000,0.00000,0.36000,1285.22,583.60)" font-family='Carlito, Calibri, "Liberation Sans", sans-serif' font-weight="bold" font-size="100" textLength="215.48" lengthAdjust="spacingAndGlyphs" fill="#000">Ca 2s</text>
<text transform="matrix(0.38973,0.00000,0.00000,0.34769,1438.42,407.60)" font-family='Carlito, Calibri, "Liberation Sans", sans-serif' font-weight="bold" font-size="100" textLength="229.25" lengthAdjust="spacingAndGlyphs" fill="#000">Ca 2p</text>
<text transform="matrix(0.38765,0.00000,0.00000,0.34615,1556.42,634.50)" font-family='Carlito, Calibri, "Liberation Sans", sans-serif' font-weight="bold" font-size="100" textLength="166.12" lengthAdjust="spacingAndGlyphs" fill="#000">C 1s</text>
<text transform="matrix(0.39177,0.00000,0.00000,0.36000,1720.75,632.70)" font-family='Carlito, Calibri, "Liberation Sans", sans-serif' font-weight="bold" font-size="100" textLength="166.41" lengthAdjust="spacingAndGlyphs" fill="#000">P 2s</text>
<text transform="matrix(0.39883,0.00000,0.00000,0.35846,1814.91,596.80)" font-family='Carlito, Calibri, "Liberation Sans", sans-serif' font-weight="bold" font-size="100" textLength="180.19" lengthAdjust="spacingAndGlyphs" fill="#000">P 2p</text>
<text transform="matrix(0.61282,0.00000,0.00000,0.54658,1005.90,847.60)" font-family='"Liberation Sans", Arial, sans-serif' font-weight="normal" font-size="100" textLength="872.81" lengthAdjust="spacingAndGlyphs" fill="#222">Binding energy [eV]</text>
<text transform="matrix(0.68450,0.00000,0.00000,0.67397,835.82,2059.40)" font-family='"Liberation Sans", Arial, sans-serif' font-weight="normal" font-size="100" textLength="872.81" lengthAdjust="spacingAndGlyphs" fill="#1a1a1a">Binding energy [eV]</text>
<text transform="matrix(0.62186,0.00000,0.00000,0.60959,289.49,1041.00)" font-family='"Liberation Sans", Arial, sans-serif' font-weight="normal" font-size="100" textLength="494.73" lengthAdjust="spacingAndGlyphs" fill="#111">Ce 3d XPS</text>
<text transform="matrix(0.61963,0.00000,0.00000,0.60411,290.74,1118.40)" font-family='"Liberation Sans", Arial, sans-serif' font-weight="normal" font-size="100" textLength="1573.00" lengthAdjust="spacingAndGlyphs" fill="#111">sample 10 Ce-HAp (before etching)</text>
<text transform="matrix(0.00000,-0.61124,0.61781,0.00000,155.10,687.30)" font-family='"Liberation Sans", Arial, sans-serif' font-weight="normal" font-size="100" textLength="878.12" lengthAdjust="spacingAndGlyphs" fill="#222">Intensity (arb. units)</text>
<text transform="matrix(0.00000,-0.68563,0.68767,0.00000,144.70,1705.77)" font-family='"Liberation Sans", Arial, sans-serif' font-weight="normal" font-size="100" textLength="878.12" lengthAdjust="spacingAndGlyphs" fill="#1a1a1a">Intensity (arb. units)</text>
<text transform="matrix(0.48592,0.00000,0.00000,0.48592,300.69,783.01)" font-family='"Liberation Sans", Arial, sans-serif' font-weight="normal" font-size="100" textLength="222.47" lengthAdjust="spacingAndGlyphs" fill="#1a1a1a">1000</text>
<text transform="matrix(0.48592,0.00000,0.00000,0.48592,658.89,783.01)" font-family='"Liberation Sans", Arial, sans-serif' font-weight="normal" font-size="100" textLength="166.86" lengthAdjust="spacingAndGlyphs" fill="#1a1a1a">800</text>
<text transform="matrix(0.48592,0.00000,0.00000,0.48592,1002.50,783.01)" font-family='"Liberation Sans", Arial, sans-serif' font-weight="normal" font-size="100" textLength="166.86" lengthAdjust="spacingAndGlyphs" fill="#1a1a1a">600</text>
<text transform="matrix(0.48592,0.00000,0.00000,0.48592,1347.09,783.01)" font-family='"Liberation Sans", Arial, sans-serif' font-weight="normal" font-size="100" textLength="166.86" lengthAdjust="spacingAndGlyphs" fill="#1a1a1a">400</text>
<text transform="matrix(0.48592,0.00000,0.00000,0.48592,1690.22,783.01)" font-family='"Liberation Sans", Arial, sans-serif' font-weight="normal" font-size="100" textLength="166.86" lengthAdjust="spacingAndGlyphs" fill="#1a1a1a">200</text>
<text transform="matrix(0.48592,0.00000,0.00000,0.48592,2061.29,783.01)" font-family='"Liberation Sans", Arial, sans-serif' font-weight="normal" font-size="100" textLength="55.62" lengthAdjust="spacingAndGlyphs" fill="#1a1a1a">0</text>
<text transform="matrix(0.63521,0.00000,0.00000,0.63521,127.94,1972.16)" font-family='"Liberation Sans", Arial, sans-serif' font-weight="normal" font-size="100" textLength="166.86" lengthAdjust="spacingAndGlyphs" fill="#222">940</text>
<text transform="matrix(0.63521,0.00000,0.00000,0.63521,508.74,1972.16)" font-family='"Liberation Sans", Arial, sans-serif' font-weight="normal" font-size="100" textLength="166.86" lengthAdjust="spacingAndGlyphs" fill="#222">930</text>
<text transform="matrix(0.63521,0.00000,0.00000,0.63521,889.54,1972.16)" font-family='"Liberation Sans", Arial, sans-serif' font-weight="normal" font-size="100" textLength="166.86" lengthAdjust="spacingAndGlyphs" fill="#222">920</text>
<text transform="matrix(0.63521,0.00000,0.00000,0.63521,1270.34,1972.16)" font-family='"Liberation Sans", Arial, sans-serif' font-weight="normal" font-size="100" textLength="166.86" lengthAdjust="spacingAndGlyphs" fill="#222">910</text>
<text transform="matrix(0.63521,0.00000,0.00000,0.63521,1651.14,1972.16)" font-family='"Liberation Sans", Arial, sans-serif' font-weight="normal" font-size="100" textLength="166.86" lengthAdjust="spacingAndGlyphs" fill="#222">900</text>
<text transform="matrix(0.63521,0.00000,0.00000,0.63521,2032.26,1972.16)" font-family='"Liberation Sans", Arial, sans-serif' font-weight="normal" font-size="100" textLength="166.86" lengthAdjust="spacingAndGlyphs" fill="#222">890</text>
</g>
</svg></body></html>
